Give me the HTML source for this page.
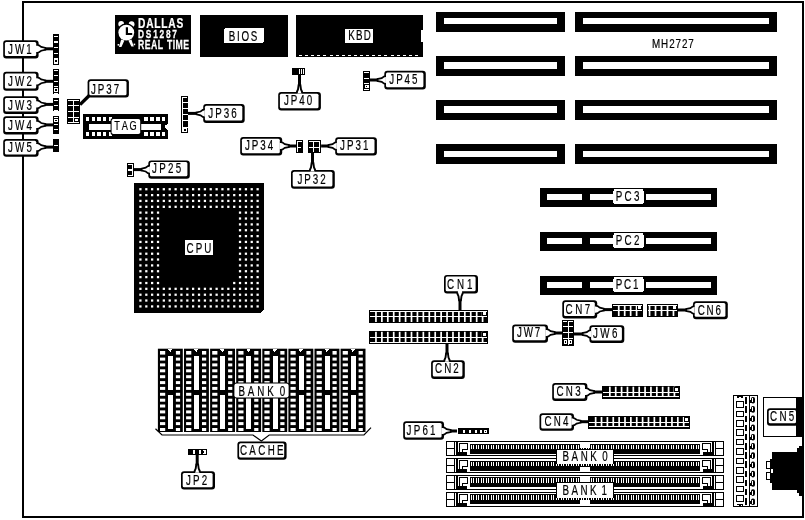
<!DOCTYPE html>
<html><head><meta charset="utf-8"><title>MH2727 board layout</title>
<style>
html,body{margin:0;padding:0;background:#fff;}
body{width:805px;height:520px;overflow:hidden;font-family:"Liberation Sans",sans-serif;}
svg{display:block;filter:grayscale(1);}
svg text{font-family:"Liberation Sans",sans-serif;}
</style></head><body>
<svg width="805" height="520" viewBox="0 0 805 520">
<rect width="805" height="520" fill="#fff"/>
<g shape-rendering="crispEdges">
<rect x="22" y="1" width="782" height="2" fill="#000" />
<rect x="22" y="516" width="782" height="2" fill="#000" />
<rect x="22" y="1" width="2" height="517" fill="#000" />
<rect x="802" y="1" width="2" height="517" fill="#000" />
<rect x="115" y="15" width="76" height="39" fill="#000" />
</g>
<g fill="#fff" stroke="none"><circle cx="121.2" cy="24" r="2.9"/><circle cx="131.6" cy="24.2" r="2.9"/><circle cx="126.3" cy="32.6" r="9.3" fill="#000"/><circle cx="126.3" cy="32.6" r="7.9"/><path d="M121.2,39.5 L119,47 L121.4,47 L124.4,40.5 Z"/><path d="M131.4,39.5 L133.8,46.6 L131.4,46.6 L128.4,40.5 Z"/><rect x="117.6" y="44" width="1.6" height="1.6"/><rect x="133.6" y="43.6" width="1.6" height="1.6"/></g>
<path d="M126.9,27.2 V34 H132.2" fill="none" stroke="#000" stroke-width="2.2"/>
<text transform="translate(0,28) scale(0.7,1)" x="197.14 208.80 220.45 230.45 240.45 252.11" y="0" font-size="14.6" fill="#fff" stroke="#fff" stroke-width="0.25" font-weight="bold">DALLAS</text>
<text transform="translate(0,38.2) scale(0.72,1)" x="191.67 202.51 212.70 221.60 230.49 239.38" y="0" font-size="11.6" fill="#fff" stroke="#fff" stroke-width="0.3" font-weight="bold">DS1287</text>
<text transform="translate(0,48.7) scale(0.66,1)" x="209.09 219.30 228.75 238.96 247.01 252.90 261.60 265.91 277.56" y="0" font-size="13.2" fill="#fff" stroke="#fff" stroke-width="0.25" font-weight="bold">REAL TIME</text>
<g shape-rendering="crispEdges">
<rect x="200" y="15" width="88" height="42" fill="#000" />
<rect x="224" y="28" width="40" height="15" rx="2" fill="#fff" />
<rect x="296" y="15" width="127" height="42" fill="#000" />
<rect x="421" y="30" width="3" height="12" fill="#fff" />
<rect x="299" y="55" width="3" height="1" fill="#fff" />
<rect x="305.1" y="55" width="3" height="1" fill="#fff" />
<rect x="311.2" y="55" width="3" height="1" fill="#fff" />
<rect x="317.3" y="55" width="3" height="1" fill="#fff" />
<rect x="323.4" y="55" width="3" height="1" fill="#fff" />
<rect x="329.5" y="55" width="3" height="1" fill="#fff" />
<rect x="335.6" y="55" width="3" height="1" fill="#fff" />
<rect x="341.7" y="55" width="3" height="1" fill="#fff" />
<rect x="347.8" y="55" width="3" height="1" fill="#fff" />
<rect x="353.9" y="55" width="3" height="1" fill="#fff" />
<rect x="360" y="55" width="3" height="1" fill="#fff" />
<rect x="366.1" y="55" width="3" height="1" fill="#fff" />
<rect x="372.2" y="55" width="3" height="1" fill="#fff" />
<rect x="378.3" y="55" width="3" height="1" fill="#fff" />
<rect x="384.4" y="55" width="3" height="1" fill="#fff" />
<rect x="390.5" y="55" width="3" height="1" fill="#fff" />
<rect x="396.6" y="55" width="3" height="1" fill="#fff" />
<rect x="402.7" y="55" width="3" height="1" fill="#fff" />
<rect x="408.8" y="55" width="3" height="1" fill="#fff" />
<rect x="414.9" y="55" width="3" height="1" fill="#fff" />
<rect x="345" y="29" width="28" height="14" fill="#fff" />
</g>
<text transform="translate(0,40.8) scale(0.7,1)" x="326.86 338.66 345.01 358.36" y="0" font-size="14" fill="#000" stroke="#000" stroke-width="0.2">BIOS</text>
<text transform="translate(0,40) scale(0.7,1)" x="497.57 508.66 519.76" y="0" font-size="14" fill="#000" stroke="#000" stroke-width="0.2">KBD</text>
<g shape-rendering="crispEdges">
<rect x="436" y="12" width="129.4" height="19.6" fill="#000" />
<rect x="444" y="18.2" width="113.4" height="6.2" fill="#fff" />
<rect x="575" y="12" width="202" height="19.6" fill="#000" />
<rect x="583" y="18.2" width="186" height="6.2" fill="#fff" />
<rect x="436" y="56" width="129.4" height="19.6" fill="#000" />
<rect x="444" y="62.4" width="113.4" height="6.4" fill="#fff" />
<rect x="575" y="56" width="202" height="19.6" fill="#000" />
<rect x="583" y="62.4" width="186" height="6.4" fill="#fff" />
<rect x="436" y="100" width="129.4" height="19.6" fill="#000" />
<rect x="444" y="106.2" width="113.4" height="6.8" fill="#fff" />
<rect x="575" y="100" width="202" height="19.6" fill="#000" />
<rect x="583" y="106.2" width="186" height="6.8" fill="#fff" />
<rect x="436" y="144" width="129.4" height="19.6" fill="#000" />
<rect x="444" y="150.6" width="113.4" height="6.4" fill="#fff" />
<rect x="575" y="144" width="202" height="19.6" fill="#000" />
<rect x="583" y="150.6" width="186" height="6.4" fill="#fff" />
</g>
<text transform="translate(0,48) scale(0.8,1)" x="815.00 826.39 836.43 844.42 852.41 860.40" y="0" font-size="12.3" fill="#000" stroke="#000" stroke-width="0.2">MH2727</text>
<g shape-rendering="crispEdges">
<rect x="540" y="188" width="177" height="19" fill="#000" />
<rect x="547" y="194" width="34.5" height="6" fill="#fff" />
<rect x="590" y="194" width="26" height="6" fill="#fff" />
<rect x="646" y="194" width="64.5" height="6" fill="#fff" />
<rect x="613.4" y="189" width="30.2" height="15.4" rx="2.5" fill="#fff" />
<rect x="540" y="232" width="177" height="19" fill="#000" />
<rect x="547" y="238" width="34.5" height="6" fill="#fff" />
<rect x="590" y="238" width="26" height="6" fill="#fff" />
<rect x="646" y="238" width="64.5" height="6" fill="#fff" />
<rect x="613.4" y="233" width="30.2" height="15.4" rx="2.5" fill="#fff" />
<rect x="540" y="276" width="177" height="19" fill="#000" />
<rect x="547" y="282" width="34.5" height="6" fill="#fff" />
<rect x="590" y="282" width="26" height="6" fill="#fff" />
<rect x="646" y="282" width="64.5" height="6" fill="#fff" />
<rect x="613.4" y="277" width="30.2" height="15.4" rx="2.5" fill="#fff" />
</g>
<text transform="translate(0,200.6) scale(0.7,1)" x="879.71 892.30 905.63" y="0" font-size="14" fill="#000" stroke="#000" stroke-width="0.2">PC3</text>
<text transform="translate(0,245.1) scale(0.7,1)" x="879.71 892.30 905.63" y="0" font-size="14" fill="#000" stroke="#000" stroke-width="0.2">PC2</text>
<text transform="translate(0,289.4) scale(0.7,1)" x="879.71 891.58 904.20" y="0" font-size="14" fill="#000" stroke="#000" stroke-width="0.2">PC1</text>
<g shape-rendering="crispEdges">
<polygon points="134,183 263.6,183 263.6,309.5 260.5,312.6 134,312.6" fill="#000" stroke="none" stroke-width="1" />
<rect x="139.3" y="188.1" width="2.25" height="2.25" fill="#fff" shape-rendering="auto"/>
<rect x="139.3" y="194" width="2.25" height="2.25" fill="#fff" shape-rendering="auto"/>
<rect x="139.3" y="199.8" width="2.25" height="2.25" fill="#fff" shape-rendering="auto"/>
<rect x="139.3" y="205.7" width="2.25" height="2.25" fill="#fff" shape-rendering="auto"/>
<rect x="139.3" y="211.5" width="2.25" height="2.25" fill="#fff" shape-rendering="auto"/>
<rect x="139.3" y="217.4" width="2.25" height="2.25" fill="#fff" shape-rendering="auto"/>
<rect x="139.3" y="223.3" width="2.25" height="2.25" fill="#fff" shape-rendering="auto"/>
<rect x="139.3" y="229.1" width="2.25" height="2.25" fill="#fff" shape-rendering="auto"/>
<rect x="139.3" y="235" width="2.25" height="2.25" fill="#fff" shape-rendering="auto"/>
<rect x="139.3" y="240.8" width="2.25" height="2.25" fill="#fff" shape-rendering="auto"/>
<rect x="139.3" y="246.7" width="2.25" height="2.25" fill="#fff" shape-rendering="auto"/>
<rect x="139.3" y="252.6" width="2.25" height="2.25" fill="#fff" shape-rendering="auto"/>
<rect x="139.3" y="258.4" width="2.25" height="2.25" fill="#fff" shape-rendering="auto"/>
<rect x="139.3" y="264.3" width="2.25" height="2.25" fill="#fff" shape-rendering="auto"/>
<rect x="139.3" y="270.1" width="2.25" height="2.25" fill="#fff" shape-rendering="auto"/>
<rect x="139.3" y="276" width="2.25" height="2.25" fill="#fff" shape-rendering="auto"/>
<rect x="139.3" y="281.9" width="2.25" height="2.25" fill="#fff" shape-rendering="auto"/>
<rect x="139.3" y="287.7" width="2.25" height="2.25" fill="#fff" shape-rendering="auto"/>
<rect x="139.3" y="293.6" width="2.25" height="2.25" fill="#fff" shape-rendering="auto"/>
<rect x="139.3" y="299.4" width="2.25" height="2.25" fill="#fff" shape-rendering="auto"/>
<rect x="139.3" y="305.3" width="2.25" height="2.25" fill="#fff" shape-rendering="auto"/>
<rect x="145.2" y="188.1" width="2.25" height="2.25" fill="#fff" shape-rendering="auto"/>
<rect x="145.2" y="194" width="2.25" height="2.25" fill="#fff" shape-rendering="auto"/>
<rect x="145.2" y="199.8" width="2.25" height="2.25" fill="#fff" shape-rendering="auto"/>
<rect x="145.2" y="205.7" width="2.25" height="2.25" fill="#fff" shape-rendering="auto"/>
<rect x="145.2" y="211.5" width="2.25" height="2.25" fill="#fff" shape-rendering="auto"/>
<rect x="145.2" y="217.4" width="2.25" height="2.25" fill="#fff" shape-rendering="auto"/>
<rect x="145.2" y="223.3" width="2.25" height="2.25" fill="#fff" shape-rendering="auto"/>
<rect x="145.2" y="229.1" width="2.25" height="2.25" fill="#fff" shape-rendering="auto"/>
<rect x="145.2" y="235" width="2.25" height="2.25" fill="#fff" shape-rendering="auto"/>
<rect x="145.2" y="240.8" width="2.25" height="2.25" fill="#fff" shape-rendering="auto"/>
<rect x="145.2" y="246.7" width="2.25" height="2.25" fill="#fff" shape-rendering="auto"/>
<rect x="145.2" y="252.6" width="2.25" height="2.25" fill="#fff" shape-rendering="auto"/>
<rect x="145.2" y="258.4" width="2.25" height="2.25" fill="#fff" shape-rendering="auto"/>
<rect x="145.2" y="264.3" width="2.25" height="2.25" fill="#fff" shape-rendering="auto"/>
<rect x="145.2" y="270.1" width="2.25" height="2.25" fill="#fff" shape-rendering="auto"/>
<rect x="145.2" y="276" width="2.25" height="2.25" fill="#fff" shape-rendering="auto"/>
<rect x="145.2" y="281.9" width="2.25" height="2.25" fill="#fff" shape-rendering="auto"/>
<rect x="145.2" y="287.7" width="2.25" height="2.25" fill="#fff" shape-rendering="auto"/>
<rect x="145.2" y="293.6" width="2.25" height="2.25" fill="#fff" shape-rendering="auto"/>
<rect x="145.2" y="299.4" width="2.25" height="2.25" fill="#fff" shape-rendering="auto"/>
<rect x="145.2" y="305.3" width="2.25" height="2.25" fill="#fff" shape-rendering="auto"/>
<rect x="151" y="188.1" width="2.25" height="2.25" fill="#fff" shape-rendering="auto"/>
<rect x="151" y="194" width="2.25" height="2.25" fill="#fff" shape-rendering="auto"/>
<rect x="151" y="199.8" width="2.25" height="2.25" fill="#fff" shape-rendering="auto"/>
<rect x="151" y="205.7" width="2.25" height="2.25" fill="#fff" shape-rendering="auto"/>
<rect x="151" y="211.5" width="2.25" height="2.25" fill="#fff" shape-rendering="auto"/>
<rect x="151" y="217.4" width="2.25" height="2.25" fill="#fff" shape-rendering="auto"/>
<rect x="151" y="223.3" width="2.25" height="2.25" fill="#fff" shape-rendering="auto"/>
<rect x="151" y="229.1" width="2.25" height="2.25" fill="#fff" shape-rendering="auto"/>
<rect x="151" y="235" width="2.25" height="2.25" fill="#fff" shape-rendering="auto"/>
<rect x="151" y="240.8" width="2.25" height="2.25" fill="#fff" shape-rendering="auto"/>
<rect x="151" y="246.7" width="2.25" height="2.25" fill="#fff" shape-rendering="auto"/>
<rect x="151" y="252.6" width="2.25" height="2.25" fill="#fff" shape-rendering="auto"/>
<rect x="151" y="258.4" width="2.25" height="2.25" fill="#fff" shape-rendering="auto"/>
<rect x="151" y="264.3" width="2.25" height="2.25" fill="#fff" shape-rendering="auto"/>
<rect x="151" y="270.1" width="2.25" height="2.25" fill="#fff" shape-rendering="auto"/>
<rect x="151" y="276" width="2.25" height="2.25" fill="#fff" shape-rendering="auto"/>
<rect x="151" y="281.9" width="2.25" height="2.25" fill="#fff" shape-rendering="auto"/>
<rect x="151" y="287.7" width="2.25" height="2.25" fill="#fff" shape-rendering="auto"/>
<rect x="151" y="293.6" width="2.25" height="2.25" fill="#fff" shape-rendering="auto"/>
<rect x="151" y="299.4" width="2.25" height="2.25" fill="#fff" shape-rendering="auto"/>
<rect x="151" y="305.3" width="2.25" height="2.25" fill="#fff" shape-rendering="auto"/>
<rect x="156.9" y="188.1" width="2.25" height="2.25" fill="#fff" shape-rendering="auto"/>
<rect x="156.9" y="194" width="2.25" height="2.25" fill="#fff" shape-rendering="auto"/>
<rect x="156.9" y="199.8" width="2.25" height="2.25" fill="#fff" shape-rendering="auto"/>
<rect x="156.9" y="205.7" width="2.25" height="2.25" fill="#fff" shape-rendering="auto"/>
<rect x="156.9" y="211.5" width="2.25" height="2.25" fill="#fff" shape-rendering="auto"/>
<rect x="156.9" y="217.4" width="2.25" height="2.25" fill="#fff" shape-rendering="auto"/>
<rect x="156.9" y="223.3" width="2.25" height="2.25" fill="#fff" shape-rendering="auto"/>
<rect x="156.9" y="229.1" width="2.25" height="2.25" fill="#fff" shape-rendering="auto"/>
<rect x="156.9" y="235" width="2.25" height="2.25" fill="#fff" shape-rendering="auto"/>
<rect x="156.9" y="240.8" width="2.25" height="2.25" fill="#fff" shape-rendering="auto"/>
<rect x="156.9" y="246.7" width="2.25" height="2.25" fill="#fff" shape-rendering="auto"/>
<rect x="156.9" y="252.6" width="2.25" height="2.25" fill="#fff" shape-rendering="auto"/>
<rect x="156.9" y="258.4" width="2.25" height="2.25" fill="#fff" shape-rendering="auto"/>
<rect x="156.9" y="264.3" width="2.25" height="2.25" fill="#fff" shape-rendering="auto"/>
<rect x="156.9" y="270.1" width="2.25" height="2.25" fill="#fff" shape-rendering="auto"/>
<rect x="156.9" y="276" width="2.25" height="2.25" fill="#fff" shape-rendering="auto"/>
<rect x="156.9" y="281.9" width="2.25" height="2.25" fill="#fff" shape-rendering="auto"/>
<rect x="156.9" y="287.7" width="2.25" height="2.25" fill="#fff" shape-rendering="auto"/>
<rect x="156.9" y="293.6" width="2.25" height="2.25" fill="#fff" shape-rendering="auto"/>
<rect x="156.9" y="299.4" width="2.25" height="2.25" fill="#fff" shape-rendering="auto"/>
<rect x="156.9" y="305.3" width="2.25" height="2.25" fill="#fff" shape-rendering="auto"/>
<rect x="162.7" y="188.1" width="2.25" height="2.25" fill="#fff" shape-rendering="auto"/>
<rect x="162.7" y="194" width="2.25" height="2.25" fill="#fff" shape-rendering="auto"/>
<rect x="162.7" y="199.8" width="2.25" height="2.25" fill="#fff" shape-rendering="auto"/>
<rect x="162.7" y="205.7" width="2.25" height="2.25" fill="#fff" shape-rendering="auto"/>
<rect x="162.7" y="287.7" width="2.25" height="2.25" fill="#fff" shape-rendering="auto"/>
<rect x="162.7" y="293.6" width="2.25" height="2.25" fill="#fff" shape-rendering="auto"/>
<rect x="162.7" y="299.4" width="2.25" height="2.25" fill="#fff" shape-rendering="auto"/>
<rect x="162.7" y="305.3" width="2.25" height="2.25" fill="#fff" shape-rendering="auto"/>
<rect x="168.6" y="188.1" width="2.25" height="2.25" fill="#fff" shape-rendering="auto"/>
<rect x="168.6" y="194" width="2.25" height="2.25" fill="#fff" shape-rendering="auto"/>
<rect x="168.6" y="199.8" width="2.25" height="2.25" fill="#fff" shape-rendering="auto"/>
<rect x="168.6" y="205.7" width="2.25" height="2.25" fill="#fff" shape-rendering="auto"/>
<rect x="168.6" y="287.7" width="2.25" height="2.25" fill="#fff" shape-rendering="auto"/>
<rect x="168.6" y="293.6" width="2.25" height="2.25" fill="#fff" shape-rendering="auto"/>
<rect x="168.6" y="299.4" width="2.25" height="2.25" fill="#fff" shape-rendering="auto"/>
<rect x="168.6" y="305.3" width="2.25" height="2.25" fill="#fff" shape-rendering="auto"/>
<rect x="174.5" y="188.1" width="2.25" height="2.25" fill="#fff" shape-rendering="auto"/>
<rect x="174.5" y="194" width="2.25" height="2.25" fill="#fff" shape-rendering="auto"/>
<rect x="174.5" y="199.8" width="2.25" height="2.25" fill="#fff" shape-rendering="auto"/>
<rect x="174.5" y="205.7" width="2.25" height="2.25" fill="#fff" shape-rendering="auto"/>
<rect x="174.5" y="287.7" width="2.25" height="2.25" fill="#fff" shape-rendering="auto"/>
<rect x="174.5" y="293.6" width="2.25" height="2.25" fill="#fff" shape-rendering="auto"/>
<rect x="174.5" y="299.4" width="2.25" height="2.25" fill="#fff" shape-rendering="auto"/>
<rect x="174.5" y="305.3" width="2.25" height="2.25" fill="#fff" shape-rendering="auto"/>
<rect x="180.3" y="188.1" width="2.25" height="2.25" fill="#fff" shape-rendering="auto"/>
<rect x="180.3" y="194" width="2.25" height="2.25" fill="#fff" shape-rendering="auto"/>
<rect x="180.3" y="199.8" width="2.25" height="2.25" fill="#fff" shape-rendering="auto"/>
<rect x="180.3" y="205.7" width="2.25" height="2.25" fill="#fff" shape-rendering="auto"/>
<rect x="180.3" y="287.7" width="2.25" height="2.25" fill="#fff" shape-rendering="auto"/>
<rect x="180.3" y="293.6" width="2.25" height="2.25" fill="#fff" shape-rendering="auto"/>
<rect x="180.3" y="299.4" width="2.25" height="2.25" fill="#fff" shape-rendering="auto"/>
<rect x="180.3" y="305.3" width="2.25" height="2.25" fill="#fff" shape-rendering="auto"/>
<rect x="186.2" y="188.1" width="2.25" height="2.25" fill="#fff" shape-rendering="auto"/>
<rect x="186.2" y="194" width="2.25" height="2.25" fill="#fff" shape-rendering="auto"/>
<rect x="186.2" y="199.8" width="2.25" height="2.25" fill="#fff" shape-rendering="auto"/>
<rect x="186.2" y="205.7" width="2.25" height="2.25" fill="#fff" shape-rendering="auto"/>
<rect x="186.2" y="287.7" width="2.25" height="2.25" fill="#fff" shape-rendering="auto"/>
<rect x="186.2" y="293.6" width="2.25" height="2.25" fill="#fff" shape-rendering="auto"/>
<rect x="186.2" y="299.4" width="2.25" height="2.25" fill="#fff" shape-rendering="auto"/>
<rect x="186.2" y="305.3" width="2.25" height="2.25" fill="#fff" shape-rendering="auto"/>
<rect x="192" y="188.1" width="2.25" height="2.25" fill="#fff" shape-rendering="auto"/>
<rect x="192" y="194" width="2.25" height="2.25" fill="#fff" shape-rendering="auto"/>
<rect x="192" y="199.8" width="2.25" height="2.25" fill="#fff" shape-rendering="auto"/>
<rect x="192" y="205.7" width="2.25" height="2.25" fill="#fff" shape-rendering="auto"/>
<rect x="192" y="287.7" width="2.25" height="2.25" fill="#fff" shape-rendering="auto"/>
<rect x="192" y="293.6" width="2.25" height="2.25" fill="#fff" shape-rendering="auto"/>
<rect x="192" y="299.4" width="2.25" height="2.25" fill="#fff" shape-rendering="auto"/>
<rect x="192" y="305.3" width="2.25" height="2.25" fill="#fff" shape-rendering="auto"/>
<rect x="197.9" y="188.1" width="2.25" height="2.25" fill="#fff" shape-rendering="auto"/>
<rect x="197.9" y="194" width="2.25" height="2.25" fill="#fff" shape-rendering="auto"/>
<rect x="197.9" y="199.8" width="2.25" height="2.25" fill="#fff" shape-rendering="auto"/>
<rect x="197.9" y="205.7" width="2.25" height="2.25" fill="#fff" shape-rendering="auto"/>
<rect x="197.9" y="287.7" width="2.25" height="2.25" fill="#fff" shape-rendering="auto"/>
<rect x="197.9" y="293.6" width="2.25" height="2.25" fill="#fff" shape-rendering="auto"/>
<rect x="197.9" y="299.4" width="2.25" height="2.25" fill="#fff" shape-rendering="auto"/>
<rect x="197.9" y="305.3" width="2.25" height="2.25" fill="#fff" shape-rendering="auto"/>
<rect x="203.8" y="188.1" width="2.25" height="2.25" fill="#fff" shape-rendering="auto"/>
<rect x="203.8" y="194" width="2.25" height="2.25" fill="#fff" shape-rendering="auto"/>
<rect x="203.8" y="199.8" width="2.25" height="2.25" fill="#fff" shape-rendering="auto"/>
<rect x="203.8" y="205.7" width="2.25" height="2.25" fill="#fff" shape-rendering="auto"/>
<rect x="203.8" y="287.7" width="2.25" height="2.25" fill="#fff" shape-rendering="auto"/>
<rect x="203.8" y="293.6" width="2.25" height="2.25" fill="#fff" shape-rendering="auto"/>
<rect x="203.8" y="299.4" width="2.25" height="2.25" fill="#fff" shape-rendering="auto"/>
<rect x="203.8" y="305.3" width="2.25" height="2.25" fill="#fff" shape-rendering="auto"/>
<rect x="209.6" y="188.1" width="2.25" height="2.25" fill="#fff" shape-rendering="auto"/>
<rect x="209.6" y="194" width="2.25" height="2.25" fill="#fff" shape-rendering="auto"/>
<rect x="209.6" y="199.8" width="2.25" height="2.25" fill="#fff" shape-rendering="auto"/>
<rect x="209.6" y="205.7" width="2.25" height="2.25" fill="#fff" shape-rendering="auto"/>
<rect x="209.6" y="287.7" width="2.25" height="2.25" fill="#fff" shape-rendering="auto"/>
<rect x="209.6" y="293.6" width="2.25" height="2.25" fill="#fff" shape-rendering="auto"/>
<rect x="209.6" y="299.4" width="2.25" height="2.25" fill="#fff" shape-rendering="auto"/>
<rect x="209.6" y="305.3" width="2.25" height="2.25" fill="#fff" shape-rendering="auto"/>
<rect x="215.5" y="188.1" width="2.25" height="2.25" fill="#fff" shape-rendering="auto"/>
<rect x="215.5" y="194" width="2.25" height="2.25" fill="#fff" shape-rendering="auto"/>
<rect x="215.5" y="199.8" width="2.25" height="2.25" fill="#fff" shape-rendering="auto"/>
<rect x="215.5" y="205.7" width="2.25" height="2.25" fill="#fff" shape-rendering="auto"/>
<rect x="215.5" y="287.7" width="2.25" height="2.25" fill="#fff" shape-rendering="auto"/>
<rect x="215.5" y="293.6" width="2.25" height="2.25" fill="#fff" shape-rendering="auto"/>
<rect x="215.5" y="299.4" width="2.25" height="2.25" fill="#fff" shape-rendering="auto"/>
<rect x="215.5" y="305.3" width="2.25" height="2.25" fill="#fff" shape-rendering="auto"/>
<rect x="221.3" y="188.1" width="2.25" height="2.25" fill="#fff" shape-rendering="auto"/>
<rect x="221.3" y="194" width="2.25" height="2.25" fill="#fff" shape-rendering="auto"/>
<rect x="221.3" y="199.8" width="2.25" height="2.25" fill="#fff" shape-rendering="auto"/>
<rect x="221.3" y="205.7" width="2.25" height="2.25" fill="#fff" shape-rendering="auto"/>
<rect x="221.3" y="287.7" width="2.25" height="2.25" fill="#fff" shape-rendering="auto"/>
<rect x="221.3" y="293.6" width="2.25" height="2.25" fill="#fff" shape-rendering="auto"/>
<rect x="221.3" y="299.4" width="2.25" height="2.25" fill="#fff" shape-rendering="auto"/>
<rect x="221.3" y="305.3" width="2.25" height="2.25" fill="#fff" shape-rendering="auto"/>
<rect x="227.2" y="188.1" width="2.25" height="2.25" fill="#fff" shape-rendering="auto"/>
<rect x="227.2" y="194" width="2.25" height="2.25" fill="#fff" shape-rendering="auto"/>
<rect x="227.2" y="199.8" width="2.25" height="2.25" fill="#fff" shape-rendering="auto"/>
<rect x="227.2" y="205.7" width="2.25" height="2.25" fill="#fff" shape-rendering="auto"/>
<rect x="227.2" y="287.7" width="2.25" height="2.25" fill="#fff" shape-rendering="auto"/>
<rect x="227.2" y="293.6" width="2.25" height="2.25" fill="#fff" shape-rendering="auto"/>
<rect x="227.2" y="299.4" width="2.25" height="2.25" fill="#fff" shape-rendering="auto"/>
<rect x="227.2" y="305.3" width="2.25" height="2.25" fill="#fff" shape-rendering="auto"/>
<rect x="233.1" y="188.1" width="2.25" height="2.25" fill="#fff" shape-rendering="auto"/>
<rect x="233.1" y="194" width="2.25" height="2.25" fill="#fff" shape-rendering="auto"/>
<rect x="233.1" y="199.8" width="2.25" height="2.25" fill="#fff" shape-rendering="auto"/>
<rect x="233.1" y="205.7" width="2.25" height="2.25" fill="#fff" shape-rendering="auto"/>
<rect x="233.1" y="281.9" width="2.25" height="2.25" fill="#fff" shape-rendering="auto"/>
<rect x="233.1" y="287.7" width="2.25" height="2.25" fill="#fff" shape-rendering="auto"/>
<rect x="233.1" y="293.6" width="2.25" height="2.25" fill="#fff" shape-rendering="auto"/>
<rect x="233.1" y="299.4" width="2.25" height="2.25" fill="#fff" shape-rendering="auto"/>
<rect x="233.1" y="305.3" width="2.25" height="2.25" fill="#fff" shape-rendering="auto"/>
<rect x="238.9" y="188.1" width="2.25" height="2.25" fill="#fff" shape-rendering="auto"/>
<rect x="238.9" y="194" width="2.25" height="2.25" fill="#fff" shape-rendering="auto"/>
<rect x="238.9" y="199.8" width="2.25" height="2.25" fill="#fff" shape-rendering="auto"/>
<rect x="238.9" y="205.7" width="2.25" height="2.25" fill="#fff" shape-rendering="auto"/>
<rect x="238.9" y="211.5" width="2.25" height="2.25" fill="#fff" shape-rendering="auto"/>
<rect x="238.9" y="217.4" width="2.25" height="2.25" fill="#fff" shape-rendering="auto"/>
<rect x="238.9" y="223.3" width="2.25" height="2.25" fill="#fff" shape-rendering="auto"/>
<rect x="238.9" y="229.1" width="2.25" height="2.25" fill="#fff" shape-rendering="auto"/>
<rect x="238.9" y="235" width="2.25" height="2.25" fill="#fff" shape-rendering="auto"/>
<rect x="238.9" y="240.8" width="2.25" height="2.25" fill="#fff" shape-rendering="auto"/>
<rect x="238.9" y="246.7" width="2.25" height="2.25" fill="#fff" shape-rendering="auto"/>
<rect x="238.9" y="252.6" width="2.25" height="2.25" fill="#fff" shape-rendering="auto"/>
<rect x="238.9" y="258.4" width="2.25" height="2.25" fill="#fff" shape-rendering="auto"/>
<rect x="238.9" y="264.3" width="2.25" height="2.25" fill="#fff" shape-rendering="auto"/>
<rect x="238.9" y="270.1" width="2.25" height="2.25" fill="#fff" shape-rendering="auto"/>
<rect x="238.9" y="276" width="2.25" height="2.25" fill="#fff" shape-rendering="auto"/>
<rect x="238.9" y="281.9" width="2.25" height="2.25" fill="#fff" shape-rendering="auto"/>
<rect x="238.9" y="287.7" width="2.25" height="2.25" fill="#fff" shape-rendering="auto"/>
<rect x="238.9" y="293.6" width="2.25" height="2.25" fill="#fff" shape-rendering="auto"/>
<rect x="238.9" y="299.4" width="2.25" height="2.25" fill="#fff" shape-rendering="auto"/>
<rect x="238.9" y="305.3" width="2.25" height="2.25" fill="#fff" shape-rendering="auto"/>
<rect x="244.8" y="188.1" width="2.25" height="2.25" fill="#fff" shape-rendering="auto"/>
<rect x="244.8" y="194" width="2.25" height="2.25" fill="#fff" shape-rendering="auto"/>
<rect x="244.8" y="199.8" width="2.25" height="2.25" fill="#fff" shape-rendering="auto"/>
<rect x="244.8" y="205.7" width="2.25" height="2.25" fill="#fff" shape-rendering="auto"/>
<rect x="244.8" y="211.5" width="2.25" height="2.25" fill="#fff" shape-rendering="auto"/>
<rect x="244.8" y="217.4" width="2.25" height="2.25" fill="#fff" shape-rendering="auto"/>
<rect x="244.8" y="223.3" width="2.25" height="2.25" fill="#fff" shape-rendering="auto"/>
<rect x="244.8" y="229.1" width="2.25" height="2.25" fill="#fff" shape-rendering="auto"/>
<rect x="244.8" y="235" width="2.25" height="2.25" fill="#fff" shape-rendering="auto"/>
<rect x="244.8" y="240.8" width="2.25" height="2.25" fill="#fff" shape-rendering="auto"/>
<rect x="244.8" y="246.7" width="2.25" height="2.25" fill="#fff" shape-rendering="auto"/>
<rect x="244.8" y="252.6" width="2.25" height="2.25" fill="#fff" shape-rendering="auto"/>
<rect x="244.8" y="258.4" width="2.25" height="2.25" fill="#fff" shape-rendering="auto"/>
<rect x="244.8" y="264.3" width="2.25" height="2.25" fill="#fff" shape-rendering="auto"/>
<rect x="244.8" y="270.1" width="2.25" height="2.25" fill="#fff" shape-rendering="auto"/>
<rect x="244.8" y="276" width="2.25" height="2.25" fill="#fff" shape-rendering="auto"/>
<rect x="244.8" y="281.9" width="2.25" height="2.25" fill="#fff" shape-rendering="auto"/>
<rect x="244.8" y="287.7" width="2.25" height="2.25" fill="#fff" shape-rendering="auto"/>
<rect x="244.8" y="293.6" width="2.25" height="2.25" fill="#fff" shape-rendering="auto"/>
<rect x="244.8" y="299.4" width="2.25" height="2.25" fill="#fff" shape-rendering="auto"/>
<rect x="244.8" y="305.3" width="2.25" height="2.25" fill="#fff" shape-rendering="auto"/>
<rect x="250.6" y="188.1" width="2.25" height="2.25" fill="#fff" shape-rendering="auto"/>
<rect x="250.6" y="194" width="2.25" height="2.25" fill="#fff" shape-rendering="auto"/>
<rect x="250.6" y="199.8" width="2.25" height="2.25" fill="#fff" shape-rendering="auto"/>
<rect x="250.6" y="205.7" width="2.25" height="2.25" fill="#fff" shape-rendering="auto"/>
<rect x="250.6" y="211.5" width="2.25" height="2.25" fill="#fff" shape-rendering="auto"/>
<rect x="250.6" y="217.4" width="2.25" height="2.25" fill="#fff" shape-rendering="auto"/>
<rect x="250.6" y="223.3" width="2.25" height="2.25" fill="#fff" shape-rendering="auto"/>
<rect x="250.6" y="229.1" width="2.25" height="2.25" fill="#fff" shape-rendering="auto"/>
<rect x="250.6" y="235" width="2.25" height="2.25" fill="#fff" shape-rendering="auto"/>
<rect x="250.6" y="240.8" width="2.25" height="2.25" fill="#fff" shape-rendering="auto"/>
<rect x="250.6" y="246.7" width="2.25" height="2.25" fill="#fff" shape-rendering="auto"/>
<rect x="250.6" y="252.6" width="2.25" height="2.25" fill="#fff" shape-rendering="auto"/>
<rect x="250.6" y="258.4" width="2.25" height="2.25" fill="#fff" shape-rendering="auto"/>
<rect x="250.6" y="264.3" width="2.25" height="2.25" fill="#fff" shape-rendering="auto"/>
<rect x="250.6" y="270.1" width="2.25" height="2.25" fill="#fff" shape-rendering="auto"/>
<rect x="250.6" y="276" width="2.25" height="2.25" fill="#fff" shape-rendering="auto"/>
<rect x="250.6" y="281.9" width="2.25" height="2.25" fill="#fff" shape-rendering="auto"/>
<rect x="250.6" y="287.7" width="2.25" height="2.25" fill="#fff" shape-rendering="auto"/>
<rect x="250.6" y="293.6" width="2.25" height="2.25" fill="#fff" shape-rendering="auto"/>
<rect x="250.6" y="299.4" width="2.25" height="2.25" fill="#fff" shape-rendering="auto"/>
<rect x="250.6" y="305.3" width="2.25" height="2.25" fill="#fff" shape-rendering="auto"/>
<rect x="256.5" y="188.1" width="2.25" height="2.25" fill="#fff" shape-rendering="auto"/>
<rect x="256.5" y="194" width="2.25" height="2.25" fill="#fff" shape-rendering="auto"/>
<rect x="256.5" y="199.8" width="2.25" height="2.25" fill="#fff" shape-rendering="auto"/>
<rect x="256.5" y="205.7" width="2.25" height="2.25" fill="#fff" shape-rendering="auto"/>
<rect x="256.5" y="211.5" width="2.25" height="2.25" fill="#fff" shape-rendering="auto"/>
<rect x="256.5" y="217.4" width="2.25" height="2.25" fill="#fff" shape-rendering="auto"/>
<rect x="256.5" y="223.3" width="2.25" height="2.25" fill="#fff" shape-rendering="auto"/>
<rect x="256.5" y="229.1" width="2.25" height="2.25" fill="#fff" shape-rendering="auto"/>
<rect x="256.5" y="235" width="2.25" height="2.25" fill="#fff" shape-rendering="auto"/>
<rect x="256.5" y="240.8" width="2.25" height="2.25" fill="#fff" shape-rendering="auto"/>
<rect x="256.5" y="246.7" width="2.25" height="2.25" fill="#fff" shape-rendering="auto"/>
<rect x="256.5" y="252.6" width="2.25" height="2.25" fill="#fff" shape-rendering="auto"/>
<rect x="256.5" y="258.4" width="2.25" height="2.25" fill="#fff" shape-rendering="auto"/>
<rect x="256.5" y="264.3" width="2.25" height="2.25" fill="#fff" shape-rendering="auto"/>
<rect x="256.5" y="270.1" width="2.25" height="2.25" fill="#fff" shape-rendering="auto"/>
<rect x="256.5" y="276" width="2.25" height="2.25" fill="#fff" shape-rendering="auto"/>
<rect x="256.5" y="281.9" width="2.25" height="2.25" fill="#fff" shape-rendering="auto"/>
<rect x="256.5" y="287.7" width="2.25" height="2.25" fill="#fff" shape-rendering="auto"/>
<rect x="256.5" y="293.6" width="2.25" height="2.25" fill="#fff" shape-rendering="auto"/>
<rect x="256.5" y="299.4" width="2.25" height="2.25" fill="#fff" shape-rendering="auto"/>
<rect x="256.5" y="305.3" width="2.25" height="2.25" fill="#fff" shape-rendering="auto"/>
<rect x="185" y="240" width="27.5" height="14.8" fill="#fff" />
</g>
<text transform="translate(0,253.4) scale(0.7,1)" x="266.57 279.61 291.90" y="0" font-size="14" fill="#000" stroke="#000" stroke-width="0.2">CPU</text>
<g shape-rendering="crispEdges">
<rect x="157.9" y="348.7" width="24.9" height="83.3" fill="#000" shape-rendering="auto"/>
<rect x="160" y="351" width="5.2" height="3.6" fill="#fff" shape-rendering="auto"/>
<rect x="175.9" y="351" width="4.2" height="3.6" fill="#fff" shape-rendering="auto"/>
<rect x="160" y="357.6" width="5.2" height="3" fill="#fff" shape-rendering="auto"/>
<rect x="175.9" y="357.6" width="4.2" height="3" fill="#fff" shape-rendering="auto"/>
<rect x="160" y="363.4" width="5.2" height="3" fill="#fff" shape-rendering="auto"/>
<rect x="175.9" y="363.4" width="4.2" height="3" fill="#fff" shape-rendering="auto"/>
<rect x="160" y="369.3" width="5.2" height="3" fill="#fff" shape-rendering="auto"/>
<rect x="175.9" y="369.3" width="4.2" height="3" fill="#fff" shape-rendering="auto"/>
<rect x="160" y="375.2" width="5.2" height="3" fill="#fff" shape-rendering="auto"/>
<rect x="175.9" y="375.2" width="4.2" height="3" fill="#fff" shape-rendering="auto"/>
<rect x="160" y="381.1" width="5.2" height="3" fill="#fff" shape-rendering="auto"/>
<rect x="175.9" y="381.1" width="4.2" height="3" fill="#fff" shape-rendering="auto"/>
<rect x="160" y="386.9" width="5.2" height="3" fill="#fff" shape-rendering="auto"/>
<rect x="175.9" y="386.9" width="4.2" height="3" fill="#fff" shape-rendering="auto"/>
<rect x="160" y="392.8" width="5.2" height="3" fill="#fff" shape-rendering="auto"/>
<rect x="175.9" y="392.8" width="4.2" height="3" fill="#fff" shape-rendering="auto"/>
<rect x="160" y="398.7" width="5.2" height="3" fill="#fff" shape-rendering="auto"/>
<rect x="175.9" y="398.7" width="4.2" height="3" fill="#fff" shape-rendering="auto"/>
<rect x="160" y="404.5" width="5.2" height="3" fill="#fff" shape-rendering="auto"/>
<rect x="175.9" y="404.5" width="4.2" height="3" fill="#fff" shape-rendering="auto"/>
<rect x="160" y="410.4" width="5.2" height="3" fill="#fff" shape-rendering="auto"/>
<rect x="175.9" y="410.4" width="4.2" height="3" fill="#fff" shape-rendering="auto"/>
<rect x="160" y="416.3" width="5.2" height="3" fill="#fff" shape-rendering="auto"/>
<rect x="175.9" y="416.3" width="4.2" height="3" fill="#fff" shape-rendering="auto"/>
<rect x="160" y="422.1" width="5.2" height="3" fill="#fff" shape-rendering="auto"/>
<rect x="175.9" y="422.1" width="4.2" height="3" fill="#fff" shape-rendering="auto"/>
<rect x="160" y="428" width="5.2" height="3" fill="#fff" shape-rendering="auto"/>
<rect x="175.9" y="428" width="4.2" height="3" fill="#fff" shape-rendering="auto"/>
<rect x="168.1" y="355.8" width="5" height="34.6" fill="#fff" />
<rect x="168.1" y="394.8" width="5" height="34" fill="#fff" />
<polygon points="167.5,348.6 172.9,348.6 170.2,352" fill="#fff" stroke="none" stroke-width="1" />
<rect x="184" y="348.7" width="24.9" height="83.3" fill="#000" shape-rendering="auto"/>
<rect x="186.1" y="351" width="5.2" height="3.6" fill="#fff" shape-rendering="auto"/>
<rect x="202" y="351" width="4.2" height="3.6" fill="#fff" shape-rendering="auto"/>
<rect x="186.1" y="357.6" width="5.2" height="3" fill="#fff" shape-rendering="auto"/>
<rect x="202" y="357.6" width="4.2" height="3" fill="#fff" shape-rendering="auto"/>
<rect x="186.1" y="363.4" width="5.2" height="3" fill="#fff" shape-rendering="auto"/>
<rect x="202" y="363.4" width="4.2" height="3" fill="#fff" shape-rendering="auto"/>
<rect x="186.1" y="369.3" width="5.2" height="3" fill="#fff" shape-rendering="auto"/>
<rect x="202" y="369.3" width="4.2" height="3" fill="#fff" shape-rendering="auto"/>
<rect x="186.1" y="375.2" width="5.2" height="3" fill="#fff" shape-rendering="auto"/>
<rect x="202" y="375.2" width="4.2" height="3" fill="#fff" shape-rendering="auto"/>
<rect x="186.1" y="381.1" width="5.2" height="3" fill="#fff" shape-rendering="auto"/>
<rect x="202" y="381.1" width="4.2" height="3" fill="#fff" shape-rendering="auto"/>
<rect x="186.1" y="386.9" width="5.2" height="3" fill="#fff" shape-rendering="auto"/>
<rect x="202" y="386.9" width="4.2" height="3" fill="#fff" shape-rendering="auto"/>
<rect x="186.1" y="392.8" width="5.2" height="3" fill="#fff" shape-rendering="auto"/>
<rect x="202" y="392.8" width="4.2" height="3" fill="#fff" shape-rendering="auto"/>
<rect x="186.1" y="398.7" width="5.2" height="3" fill="#fff" shape-rendering="auto"/>
<rect x="202" y="398.7" width="4.2" height="3" fill="#fff" shape-rendering="auto"/>
<rect x="186.1" y="404.5" width="5.2" height="3" fill="#fff" shape-rendering="auto"/>
<rect x="202" y="404.5" width="4.2" height="3" fill="#fff" shape-rendering="auto"/>
<rect x="186.1" y="410.4" width="5.2" height="3" fill="#fff" shape-rendering="auto"/>
<rect x="202" y="410.4" width="4.2" height="3" fill="#fff" shape-rendering="auto"/>
<rect x="186.1" y="416.3" width="5.2" height="3" fill="#fff" shape-rendering="auto"/>
<rect x="202" y="416.3" width="4.2" height="3" fill="#fff" shape-rendering="auto"/>
<rect x="186.1" y="422.1" width="5.2" height="3" fill="#fff" shape-rendering="auto"/>
<rect x="202" y="422.1" width="4.2" height="3" fill="#fff" shape-rendering="auto"/>
<rect x="186.1" y="428" width="5.2" height="3" fill="#fff" shape-rendering="auto"/>
<rect x="202" y="428" width="4.2" height="3" fill="#fff" shape-rendering="auto"/>
<rect x="194.2" y="355.8" width="5" height="34.6" fill="#fff" />
<rect x="194.2" y="394.8" width="5" height="34" fill="#fff" />
<polygon points="193.6,348.6 199,348.6 196.3,352" fill="#fff" stroke="none" stroke-width="1" />
<rect x="210.1" y="348.7" width="24.9" height="83.3" fill="#000" shape-rendering="auto"/>
<rect x="212.2" y="351" width="5.2" height="3.6" fill="#fff" shape-rendering="auto"/>
<rect x="228.1" y="351" width="4.2" height="3.6" fill="#fff" shape-rendering="auto"/>
<rect x="212.2" y="357.6" width="5.2" height="3" fill="#fff" shape-rendering="auto"/>
<rect x="228.1" y="357.6" width="4.2" height="3" fill="#fff" shape-rendering="auto"/>
<rect x="212.2" y="363.4" width="5.2" height="3" fill="#fff" shape-rendering="auto"/>
<rect x="228.1" y="363.4" width="4.2" height="3" fill="#fff" shape-rendering="auto"/>
<rect x="212.2" y="369.3" width="5.2" height="3" fill="#fff" shape-rendering="auto"/>
<rect x="228.1" y="369.3" width="4.2" height="3" fill="#fff" shape-rendering="auto"/>
<rect x="212.2" y="375.2" width="5.2" height="3" fill="#fff" shape-rendering="auto"/>
<rect x="228.1" y="375.2" width="4.2" height="3" fill="#fff" shape-rendering="auto"/>
<rect x="212.2" y="381.1" width="5.2" height="3" fill="#fff" shape-rendering="auto"/>
<rect x="228.1" y="381.1" width="4.2" height="3" fill="#fff" shape-rendering="auto"/>
<rect x="212.2" y="386.9" width="5.2" height="3" fill="#fff" shape-rendering="auto"/>
<rect x="228.1" y="386.9" width="4.2" height="3" fill="#fff" shape-rendering="auto"/>
<rect x="212.2" y="392.8" width="5.2" height="3" fill="#fff" shape-rendering="auto"/>
<rect x="228.1" y="392.8" width="4.2" height="3" fill="#fff" shape-rendering="auto"/>
<rect x="212.2" y="398.7" width="5.2" height="3" fill="#fff" shape-rendering="auto"/>
<rect x="228.1" y="398.7" width="4.2" height="3" fill="#fff" shape-rendering="auto"/>
<rect x="212.2" y="404.5" width="5.2" height="3" fill="#fff" shape-rendering="auto"/>
<rect x="228.1" y="404.5" width="4.2" height="3" fill="#fff" shape-rendering="auto"/>
<rect x="212.2" y="410.4" width="5.2" height="3" fill="#fff" shape-rendering="auto"/>
<rect x="228.1" y="410.4" width="4.2" height="3" fill="#fff" shape-rendering="auto"/>
<rect x="212.2" y="416.3" width="5.2" height="3" fill="#fff" shape-rendering="auto"/>
<rect x="228.1" y="416.3" width="4.2" height="3" fill="#fff" shape-rendering="auto"/>
<rect x="212.2" y="422.1" width="5.2" height="3" fill="#fff" shape-rendering="auto"/>
<rect x="228.1" y="422.1" width="4.2" height="3" fill="#fff" shape-rendering="auto"/>
<rect x="212.2" y="428" width="5.2" height="3" fill="#fff" shape-rendering="auto"/>
<rect x="228.1" y="428" width="4.2" height="3" fill="#fff" shape-rendering="auto"/>
<rect x="220.3" y="355.8" width="5" height="34.6" fill="#fff" />
<rect x="220.3" y="394.8" width="5" height="34" fill="#fff" />
<polygon points="219.7,348.6 225.1,348.6 222.4,352" fill="#fff" stroke="none" stroke-width="1" />
<rect x="236.2" y="348.7" width="24.9" height="83.3" fill="#000" shape-rendering="auto"/>
<rect x="238.3" y="351" width="5.2" height="3.6" fill="#fff" shape-rendering="auto"/>
<rect x="254.2" y="351" width="4.2" height="3.6" fill="#fff" shape-rendering="auto"/>
<rect x="238.3" y="357.6" width="5.2" height="3" fill="#fff" shape-rendering="auto"/>
<rect x="254.2" y="357.6" width="4.2" height="3" fill="#fff" shape-rendering="auto"/>
<rect x="238.3" y="363.4" width="5.2" height="3" fill="#fff" shape-rendering="auto"/>
<rect x="254.2" y="363.4" width="4.2" height="3" fill="#fff" shape-rendering="auto"/>
<rect x="238.3" y="369.3" width="5.2" height="3" fill="#fff" shape-rendering="auto"/>
<rect x="254.2" y="369.3" width="4.2" height="3" fill="#fff" shape-rendering="auto"/>
<rect x="238.3" y="375.2" width="5.2" height="3" fill="#fff" shape-rendering="auto"/>
<rect x="254.2" y="375.2" width="4.2" height="3" fill="#fff" shape-rendering="auto"/>
<rect x="238.3" y="381.1" width="5.2" height="3" fill="#fff" shape-rendering="auto"/>
<rect x="254.2" y="381.1" width="4.2" height="3" fill="#fff" shape-rendering="auto"/>
<rect x="238.3" y="386.9" width="5.2" height="3" fill="#fff" shape-rendering="auto"/>
<rect x="254.2" y="386.9" width="4.2" height="3" fill="#fff" shape-rendering="auto"/>
<rect x="238.3" y="392.8" width="5.2" height="3" fill="#fff" shape-rendering="auto"/>
<rect x="254.2" y="392.8" width="4.2" height="3" fill="#fff" shape-rendering="auto"/>
<rect x="238.3" y="398.7" width="5.2" height="3" fill="#fff" shape-rendering="auto"/>
<rect x="254.2" y="398.7" width="4.2" height="3" fill="#fff" shape-rendering="auto"/>
<rect x="238.3" y="404.5" width="5.2" height="3" fill="#fff" shape-rendering="auto"/>
<rect x="254.2" y="404.5" width="4.2" height="3" fill="#fff" shape-rendering="auto"/>
<rect x="238.3" y="410.4" width="5.2" height="3" fill="#fff" shape-rendering="auto"/>
<rect x="254.2" y="410.4" width="4.2" height="3" fill="#fff" shape-rendering="auto"/>
<rect x="238.3" y="416.3" width="5.2" height="3" fill="#fff" shape-rendering="auto"/>
<rect x="254.2" y="416.3" width="4.2" height="3" fill="#fff" shape-rendering="auto"/>
<rect x="238.3" y="422.1" width="5.2" height="3" fill="#fff" shape-rendering="auto"/>
<rect x="254.2" y="422.1" width="4.2" height="3" fill="#fff" shape-rendering="auto"/>
<rect x="238.3" y="428" width="5.2" height="3" fill="#fff" shape-rendering="auto"/>
<rect x="254.2" y="428" width="4.2" height="3" fill="#fff" shape-rendering="auto"/>
<rect x="246.4" y="355.8" width="5" height="34.6" fill="#fff" />
<rect x="246.4" y="394.8" width="5" height="34" fill="#fff" />
<polygon points="245.8,348.6 251.2,348.6 248.5,352" fill="#fff" stroke="none" stroke-width="1" />
<rect x="262.3" y="348.7" width="24.9" height="83.3" fill="#000" shape-rendering="auto"/>
<rect x="264.4" y="351" width="5.2" height="3.6" fill="#fff" shape-rendering="auto"/>
<rect x="280.3" y="351" width="4.2" height="3.6" fill="#fff" shape-rendering="auto"/>
<rect x="264.4" y="357.6" width="5.2" height="3" fill="#fff" shape-rendering="auto"/>
<rect x="280.3" y="357.6" width="4.2" height="3" fill="#fff" shape-rendering="auto"/>
<rect x="264.4" y="363.4" width="5.2" height="3" fill="#fff" shape-rendering="auto"/>
<rect x="280.3" y="363.4" width="4.2" height="3" fill="#fff" shape-rendering="auto"/>
<rect x="264.4" y="369.3" width="5.2" height="3" fill="#fff" shape-rendering="auto"/>
<rect x="280.3" y="369.3" width="4.2" height="3" fill="#fff" shape-rendering="auto"/>
<rect x="264.4" y="375.2" width="5.2" height="3" fill="#fff" shape-rendering="auto"/>
<rect x="280.3" y="375.2" width="4.2" height="3" fill="#fff" shape-rendering="auto"/>
<rect x="264.4" y="381.1" width="5.2" height="3" fill="#fff" shape-rendering="auto"/>
<rect x="280.3" y="381.1" width="4.2" height="3" fill="#fff" shape-rendering="auto"/>
<rect x="264.4" y="386.9" width="5.2" height="3" fill="#fff" shape-rendering="auto"/>
<rect x="280.3" y="386.9" width="4.2" height="3" fill="#fff" shape-rendering="auto"/>
<rect x="264.4" y="392.8" width="5.2" height="3" fill="#fff" shape-rendering="auto"/>
<rect x="280.3" y="392.8" width="4.2" height="3" fill="#fff" shape-rendering="auto"/>
<rect x="264.4" y="398.7" width="5.2" height="3" fill="#fff" shape-rendering="auto"/>
<rect x="280.3" y="398.7" width="4.2" height="3" fill="#fff" shape-rendering="auto"/>
<rect x="264.4" y="404.5" width="5.2" height="3" fill="#fff" shape-rendering="auto"/>
<rect x="280.3" y="404.5" width="4.2" height="3" fill="#fff" shape-rendering="auto"/>
<rect x="264.4" y="410.4" width="5.2" height="3" fill="#fff" shape-rendering="auto"/>
<rect x="280.3" y="410.4" width="4.2" height="3" fill="#fff" shape-rendering="auto"/>
<rect x="264.4" y="416.3" width="5.2" height="3" fill="#fff" shape-rendering="auto"/>
<rect x="280.3" y="416.3" width="4.2" height="3" fill="#fff" shape-rendering="auto"/>
<rect x="264.4" y="422.1" width="5.2" height="3" fill="#fff" shape-rendering="auto"/>
<rect x="280.3" y="422.1" width="4.2" height="3" fill="#fff" shape-rendering="auto"/>
<rect x="264.4" y="428" width="5.2" height="3" fill="#fff" shape-rendering="auto"/>
<rect x="280.3" y="428" width="4.2" height="3" fill="#fff" shape-rendering="auto"/>
<rect x="272.5" y="355.8" width="5" height="34.6" fill="#fff" />
<rect x="272.5" y="394.8" width="5" height="34" fill="#fff" />
<polygon points="271.9,348.6 277.3,348.6 274.6,352" fill="#fff" stroke="none" stroke-width="1" />
<rect x="288.4" y="348.7" width="24.9" height="83.3" fill="#000" shape-rendering="auto"/>
<rect x="290.5" y="351" width="5.2" height="3.6" fill="#fff" shape-rendering="auto"/>
<rect x="306.4" y="351" width="4.2" height="3.6" fill="#fff" shape-rendering="auto"/>
<rect x="290.5" y="357.6" width="5.2" height="3" fill="#fff" shape-rendering="auto"/>
<rect x="306.4" y="357.6" width="4.2" height="3" fill="#fff" shape-rendering="auto"/>
<rect x="290.5" y="363.4" width="5.2" height="3" fill="#fff" shape-rendering="auto"/>
<rect x="306.4" y="363.4" width="4.2" height="3" fill="#fff" shape-rendering="auto"/>
<rect x="290.5" y="369.3" width="5.2" height="3" fill="#fff" shape-rendering="auto"/>
<rect x="306.4" y="369.3" width="4.2" height="3" fill="#fff" shape-rendering="auto"/>
<rect x="290.5" y="375.2" width="5.2" height="3" fill="#fff" shape-rendering="auto"/>
<rect x="306.4" y="375.2" width="4.2" height="3" fill="#fff" shape-rendering="auto"/>
<rect x="290.5" y="381.1" width="5.2" height="3" fill="#fff" shape-rendering="auto"/>
<rect x="306.4" y="381.1" width="4.2" height="3" fill="#fff" shape-rendering="auto"/>
<rect x="290.5" y="386.9" width="5.2" height="3" fill="#fff" shape-rendering="auto"/>
<rect x="306.4" y="386.9" width="4.2" height="3" fill="#fff" shape-rendering="auto"/>
<rect x="290.5" y="392.8" width="5.2" height="3" fill="#fff" shape-rendering="auto"/>
<rect x="306.4" y="392.8" width="4.2" height="3" fill="#fff" shape-rendering="auto"/>
<rect x="290.5" y="398.7" width="5.2" height="3" fill="#fff" shape-rendering="auto"/>
<rect x="306.4" y="398.7" width="4.2" height="3" fill="#fff" shape-rendering="auto"/>
<rect x="290.5" y="404.5" width="5.2" height="3" fill="#fff" shape-rendering="auto"/>
<rect x="306.4" y="404.5" width="4.2" height="3" fill="#fff" shape-rendering="auto"/>
<rect x="290.5" y="410.4" width="5.2" height="3" fill="#fff" shape-rendering="auto"/>
<rect x="306.4" y="410.4" width="4.2" height="3" fill="#fff" shape-rendering="auto"/>
<rect x="290.5" y="416.3" width="5.2" height="3" fill="#fff" shape-rendering="auto"/>
<rect x="306.4" y="416.3" width="4.2" height="3" fill="#fff" shape-rendering="auto"/>
<rect x="290.5" y="422.1" width="5.2" height="3" fill="#fff" shape-rendering="auto"/>
<rect x="306.4" y="422.1" width="4.2" height="3" fill="#fff" shape-rendering="auto"/>
<rect x="290.5" y="428" width="5.2" height="3" fill="#fff" shape-rendering="auto"/>
<rect x="306.4" y="428" width="4.2" height="3" fill="#fff" shape-rendering="auto"/>
<rect x="298.6" y="355.8" width="5" height="34.6" fill="#fff" />
<rect x="298.6" y="394.8" width="5" height="34" fill="#fff" />
<polygon points="298,348.6 303.4,348.6 300.7,352" fill="#fff" stroke="none" stroke-width="1" />
<rect x="314.5" y="348.7" width="24.9" height="83.3" fill="#000" shape-rendering="auto"/>
<rect x="316.6" y="351" width="5.2" height="3.6" fill="#fff" shape-rendering="auto"/>
<rect x="332.5" y="351" width="4.2" height="3.6" fill="#fff" shape-rendering="auto"/>
<rect x="316.6" y="357.6" width="5.2" height="3" fill="#fff" shape-rendering="auto"/>
<rect x="332.5" y="357.6" width="4.2" height="3" fill="#fff" shape-rendering="auto"/>
<rect x="316.6" y="363.4" width="5.2" height="3" fill="#fff" shape-rendering="auto"/>
<rect x="332.5" y="363.4" width="4.2" height="3" fill="#fff" shape-rendering="auto"/>
<rect x="316.6" y="369.3" width="5.2" height="3" fill="#fff" shape-rendering="auto"/>
<rect x="332.5" y="369.3" width="4.2" height="3" fill="#fff" shape-rendering="auto"/>
<rect x="316.6" y="375.2" width="5.2" height="3" fill="#fff" shape-rendering="auto"/>
<rect x="332.5" y="375.2" width="4.2" height="3" fill="#fff" shape-rendering="auto"/>
<rect x="316.6" y="381.1" width="5.2" height="3" fill="#fff" shape-rendering="auto"/>
<rect x="332.5" y="381.1" width="4.2" height="3" fill="#fff" shape-rendering="auto"/>
<rect x="316.6" y="386.9" width="5.2" height="3" fill="#fff" shape-rendering="auto"/>
<rect x="332.5" y="386.9" width="4.2" height="3" fill="#fff" shape-rendering="auto"/>
<rect x="316.6" y="392.8" width="5.2" height="3" fill="#fff" shape-rendering="auto"/>
<rect x="332.5" y="392.8" width="4.2" height="3" fill="#fff" shape-rendering="auto"/>
<rect x="316.6" y="398.7" width="5.2" height="3" fill="#fff" shape-rendering="auto"/>
<rect x="332.5" y="398.7" width="4.2" height="3" fill="#fff" shape-rendering="auto"/>
<rect x="316.6" y="404.5" width="5.2" height="3" fill="#fff" shape-rendering="auto"/>
<rect x="332.5" y="404.5" width="4.2" height="3" fill="#fff" shape-rendering="auto"/>
<rect x="316.6" y="410.4" width="5.2" height="3" fill="#fff" shape-rendering="auto"/>
<rect x="332.5" y="410.4" width="4.2" height="3" fill="#fff" shape-rendering="auto"/>
<rect x="316.6" y="416.3" width="5.2" height="3" fill="#fff" shape-rendering="auto"/>
<rect x="332.5" y="416.3" width="4.2" height="3" fill="#fff" shape-rendering="auto"/>
<rect x="316.6" y="422.1" width="5.2" height="3" fill="#fff" shape-rendering="auto"/>
<rect x="332.5" y="422.1" width="4.2" height="3" fill="#fff" shape-rendering="auto"/>
<rect x="316.6" y="428" width="5.2" height="3" fill="#fff" shape-rendering="auto"/>
<rect x="332.5" y="428" width="4.2" height="3" fill="#fff" shape-rendering="auto"/>
<rect x="324.7" y="355.8" width="5" height="34.6" fill="#fff" />
<rect x="324.7" y="394.8" width="5" height="34" fill="#fff" />
<polygon points="324.1,348.6 329.5,348.6 326.8,352" fill="#fff" stroke="none" stroke-width="1" />
<rect x="340.6" y="348.7" width="24.9" height="83.3" fill="#000" shape-rendering="auto"/>
<rect x="342.7" y="351" width="5.2" height="3.6" fill="#fff" shape-rendering="auto"/>
<rect x="358.6" y="351" width="4.2" height="3.6" fill="#fff" shape-rendering="auto"/>
<rect x="342.7" y="357.6" width="5.2" height="3" fill="#fff" shape-rendering="auto"/>
<rect x="358.6" y="357.6" width="4.2" height="3" fill="#fff" shape-rendering="auto"/>
<rect x="342.7" y="363.4" width="5.2" height="3" fill="#fff" shape-rendering="auto"/>
<rect x="358.6" y="363.4" width="4.2" height="3" fill="#fff" shape-rendering="auto"/>
<rect x="342.7" y="369.3" width="5.2" height="3" fill="#fff" shape-rendering="auto"/>
<rect x="358.6" y="369.3" width="4.2" height="3" fill="#fff" shape-rendering="auto"/>
<rect x="342.7" y="375.2" width="5.2" height="3" fill="#fff" shape-rendering="auto"/>
<rect x="358.6" y="375.2" width="4.2" height="3" fill="#fff" shape-rendering="auto"/>
<rect x="342.7" y="381.1" width="5.2" height="3" fill="#fff" shape-rendering="auto"/>
<rect x="358.6" y="381.1" width="4.2" height="3" fill="#fff" shape-rendering="auto"/>
<rect x="342.7" y="386.9" width="5.2" height="3" fill="#fff" shape-rendering="auto"/>
<rect x="358.6" y="386.9" width="4.2" height="3" fill="#fff" shape-rendering="auto"/>
<rect x="342.7" y="392.8" width="5.2" height="3" fill="#fff" shape-rendering="auto"/>
<rect x="358.6" y="392.8" width="4.2" height="3" fill="#fff" shape-rendering="auto"/>
<rect x="342.7" y="398.7" width="5.2" height="3" fill="#fff" shape-rendering="auto"/>
<rect x="358.6" y="398.7" width="4.2" height="3" fill="#fff" shape-rendering="auto"/>
<rect x="342.7" y="404.5" width="5.2" height="3" fill="#fff" shape-rendering="auto"/>
<rect x="358.6" y="404.5" width="4.2" height="3" fill="#fff" shape-rendering="auto"/>
<rect x="342.7" y="410.4" width="5.2" height="3" fill="#fff" shape-rendering="auto"/>
<rect x="358.6" y="410.4" width="4.2" height="3" fill="#fff" shape-rendering="auto"/>
<rect x="342.7" y="416.3" width="5.2" height="3" fill="#fff" shape-rendering="auto"/>
<rect x="358.6" y="416.3" width="4.2" height="3" fill="#fff" shape-rendering="auto"/>
<rect x="342.7" y="422.1" width="5.2" height="3" fill="#fff" shape-rendering="auto"/>
<rect x="358.6" y="422.1" width="4.2" height="3" fill="#fff" shape-rendering="auto"/>
<rect x="342.7" y="428" width="5.2" height="3" fill="#fff" shape-rendering="auto"/>
<rect x="358.6" y="428" width="4.2" height="3" fill="#fff" shape-rendering="auto"/>
<rect x="350.8" y="355.8" width="5" height="34.6" fill="#fff" />
<rect x="350.8" y="394.8" width="5" height="34" fill="#fff" />
<polygon points="350.2,348.6 355.6,348.6 352.9,352" fill="#fff" stroke="none" stroke-width="1" />
</g>
<path d="M155.5,428.8 L162,435 H253 L261.4,441 L269.2,435 H364 L371,427.6" fill="none" stroke="#000" stroke-width="1.2" />
<rect x="233.4" y="382.6" width="56.2" height="15.9" rx="3" fill="#000" />
<rect x="234.4" y="383.6" width="54.2" height="13.9" rx="2.2" fill="#fff" />
<text transform="translate(0,395.5) scale(0.7,1)" x="340.57 354.10 367.63 381.92 391.27 399.63" y="0" font-size="14" fill="#000" stroke="#000" stroke-width="0.2">BANK 0</text>
<rect x="237.4" y="441.6" width="49.2" height="18.2" rx="3" fill="#000" />
<rect x="239.1" y="443.3" width="45.1" height="14.1" rx="1.5" fill="#fff" />
<text transform="translate(0,455.2) scale(0.7,1)" x="342.71 356.17 368.88 382.34 395.79" y="0" font-size="14" fill="#000" stroke="#000" stroke-width="0.2">CACHE</text>
<g shape-rendering="crispEdges">
<rect x="446" y="441.2" width="278" height="15.2" fill="#000" />
<rect x="447" y="442.2" width="276" height="13.2" fill="#fff" />
<rect x="454" y="441.2" width="1" height="15" fill="#000" />
<rect x="446" y="448.2" width="8" height="1" fill="#000" />
<rect x="456" y="442.2" width="2" height="14" fill="#000" />
<path d="M459.5,443.7 H467.5 V449.7 H462.5 V452.7 H459.5 Z" fill="#fff" stroke="#000" stroke-width="1" />
<rect x="458" y="452.2" width="9" height="3" fill="#000" />
<rect x="715" y="441.2" width="1" height="15" fill="#000" />
<rect x="716" y="448.2" width="8" height="1" fill="#000" />
<rect x="712" y="442.2" width="2" height="14" fill="#000" />
<path d="M710.5,443.7 H702.5 V449.7 H707.5 V452.7 H710.5 Z" fill="#fff" stroke="#000" stroke-width="1" />
<rect x="703" y="452.2" width="9" height="3" fill="#000" />
<rect x="469.5" y="443.8" width="230.7" height="10" fill="#000" />
<rect x="471" y="444.7" width="1" height="4.6" fill="#fff" />
<rect x="473" y="444.7" width="1" height="4.6" fill="#fff" />
<rect x="476" y="444.7" width="1" height="4.6" fill="#fff" />
<rect x="478" y="444.7" width="1" height="4.6" fill="#fff" />
<rect x="481" y="444.7" width="1" height="4.6" fill="#fff" />
<rect x="483" y="444.7" width="1" height="4.6" fill="#fff" />
<rect x="486" y="444.7" width="1" height="4.6" fill="#fff" />
<rect x="488" y="444.7" width="1" height="4.6" fill="#fff" />
<rect x="491" y="444.7" width="1" height="4.6" fill="#fff" />
<rect x="493" y="444.7" width="1" height="4.6" fill="#fff" />
<rect x="496" y="444.7" width="1" height="4.6" fill="#fff" />
<rect x="498" y="444.7" width="1" height="4.6" fill="#fff" />
<rect x="501" y="444.7" width="1" height="4.6" fill="#fff" />
<rect x="503" y="444.7" width="1" height="4.6" fill="#fff" />
<rect x="506" y="444.7" width="1" height="4.6" fill="#fff" />
<rect x="508" y="444.7" width="1" height="4.6" fill="#fff" />
<rect x="511" y="444.7" width="1" height="4.6" fill="#fff" />
<rect x="513" y="444.7" width="1" height="4.6" fill="#fff" />
<rect x="516" y="444.7" width="1" height="4.6" fill="#fff" />
<rect x="518" y="444.7" width="1" height="4.6" fill="#fff" />
<rect x="521" y="444.7" width="1" height="4.6" fill="#fff" />
<rect x="523" y="444.7" width="1" height="4.6" fill="#fff" />
<rect x="526" y="444.7" width="1" height="4.6" fill="#fff" />
<rect x="528" y="444.7" width="1" height="4.6" fill="#fff" />
<rect x="531" y="444.7" width="1" height="4.6" fill="#fff" />
<rect x="533" y="444.7" width="1" height="4.6" fill="#fff" />
<rect x="536" y="444.7" width="1" height="4.6" fill="#fff" />
<rect x="538" y="444.7" width="1" height="4.6" fill="#fff" />
<rect x="541" y="444.7" width="1" height="4.6" fill="#fff" />
<rect x="543" y="444.7" width="1" height="4.6" fill="#fff" />
<rect x="546" y="444.7" width="1" height="4.6" fill="#fff" />
<rect x="548" y="444.7" width="1" height="4.6" fill="#fff" />
<rect x="551" y="444.7" width="1" height="4.6" fill="#fff" />
<rect x="553" y="444.7" width="1" height="4.6" fill="#fff" />
<rect x="556" y="444.7" width="1" height="4.6" fill="#fff" />
<rect x="558" y="444.7" width="1" height="4.6" fill="#fff" />
<rect x="561" y="444.7" width="1" height="4.6" fill="#fff" />
<rect x="563" y="444.7" width="1" height="4.6" fill="#fff" />
<rect x="566" y="444.7" width="1" height="4.6" fill="#fff" />
<rect x="568" y="444.7" width="1" height="4.6" fill="#fff" />
<rect x="571" y="444.7" width="1" height="4.6" fill="#fff" />
<rect x="573" y="444.7" width="1" height="4.6" fill="#fff" />
<rect x="576" y="444.7" width="1" height="4.6" fill="#fff" />
<rect x="578" y="444.7" width="1" height="4.6" fill="#fff" />
<rect x="581" y="444.7" width="1" height="4.6" fill="#fff" />
<rect x="583" y="444.7" width="1" height="4.6" fill="#fff" />
<rect x="586" y="444.7" width="1" height="4.6" fill="#fff" />
<rect x="588" y="444.7" width="1" height="4.6" fill="#fff" />
<rect x="591" y="444.7" width="1" height="4.6" fill="#fff" />
<rect x="593" y="444.7" width="1" height="4.6" fill="#fff" />
<rect x="596" y="444.7" width="1" height="4.6" fill="#fff" />
<rect x="598" y="444.7" width="1" height="4.6" fill="#fff" />
<rect x="601" y="444.7" width="1" height="4.6" fill="#fff" />
<rect x="603" y="444.7" width="1" height="4.6" fill="#fff" />
<rect x="606" y="444.7" width="1" height="4.6" fill="#fff" />
<rect x="608" y="444.7" width="1" height="4.6" fill="#fff" />
<rect x="611" y="444.7" width="1" height="4.6" fill="#fff" />
<rect x="613" y="444.7" width="1" height="4.6" fill="#fff" />
<rect x="616" y="444.7" width="1" height="4.6" fill="#fff" />
<rect x="618" y="444.7" width="1" height="4.6" fill="#fff" />
<rect x="621" y="444.7" width="1" height="4.6" fill="#fff" />
<rect x="623" y="444.7" width="1" height="4.6" fill="#fff" />
<rect x="626" y="444.7" width="1" height="4.6" fill="#fff" />
<rect x="628" y="444.7" width="1" height="4.6" fill="#fff" />
<rect x="631" y="444.7" width="1" height="4.6" fill="#fff" />
<rect x="633" y="444.7" width="1" height="4.6" fill="#fff" />
<rect x="636" y="444.7" width="1" height="4.6" fill="#fff" />
<rect x="638" y="444.7" width="1" height="4.6" fill="#fff" />
<rect x="641" y="444.7" width="1" height="4.6" fill="#fff" />
<rect x="643" y="444.7" width="1" height="4.6" fill="#fff" />
<rect x="646" y="444.7" width="1" height="4.6" fill="#fff" />
<rect x="648" y="444.7" width="1" height="4.6" fill="#fff" />
<rect x="651" y="444.7" width="1" height="4.6" fill="#fff" />
<rect x="653" y="444.7" width="1" height="4.6" fill="#fff" />
<rect x="656" y="444.7" width="1" height="4.6" fill="#fff" />
<rect x="658" y="444.7" width="1" height="4.6" fill="#fff" />
<rect x="661" y="444.7" width="1" height="4.6" fill="#fff" />
<rect x="663" y="444.7" width="1" height="4.6" fill="#fff" />
<rect x="666" y="444.7" width="1" height="4.6" fill="#fff" />
<rect x="668" y="444.7" width="1" height="4.6" fill="#fff" />
<rect x="671" y="444.7" width="1" height="4.6" fill="#fff" />
<rect x="673" y="444.7" width="1" height="4.6" fill="#fff" />
<rect x="676" y="444.7" width="1" height="4.6" fill="#fff" />
<rect x="678" y="444.7" width="1" height="4.6" fill="#fff" />
<rect x="681" y="444.7" width="1" height="4.6" fill="#fff" />
<rect x="683" y="444.7" width="1" height="4.6" fill="#fff" />
<rect x="686" y="444.7" width="1" height="4.6" fill="#fff" />
<rect x="688" y="444.7" width="1" height="4.6" fill="#fff" />
<rect x="691" y="444.7" width="1" height="4.6" fill="#fff" />
<rect x="693" y="444.7" width="1" height="4.6" fill="#fff" />
<rect x="696" y="444.7" width="1" height="4.6" fill="#fff" />
<rect x="698" y="444.7" width="1" height="4.6" fill="#fff" />
<rect x="580" y="443.2" width="10" height="5" fill="#fff" />
<rect x="469.5" y="453.8" width="231" height="1.4" fill="#fff" />
<rect x="446" y="458" width="278" height="15.2" fill="#000" />
<rect x="447" y="459" width="276" height="13.2" fill="#fff" />
<rect x="454" y="458" width="1" height="15" fill="#000" />
<rect x="446" y="465" width="8" height="1" fill="#000" />
<rect x="456" y="459" width="2" height="14" fill="#000" />
<path d="M459.5,460.5 H467.5 V466.5 H462.5 V469.5 H459.5 Z" fill="#fff" stroke="#000" stroke-width="1" />
<rect x="458" y="469" width="9" height="3" fill="#000" />
<rect x="715" y="458" width="1" height="15" fill="#000" />
<rect x="716" y="465" width="8" height="1" fill="#000" />
<rect x="712" y="459" width="2" height="14" fill="#000" />
<path d="M710.5,460.5 H702.5 V466.5 H707.5 V469.5 H710.5 Z" fill="#fff" stroke="#000" stroke-width="1" />
<rect x="703" y="469" width="9" height="3" fill="#000" />
<rect x="469.5" y="460.6" width="230.7" height="10" fill="#000" />
<rect x="471" y="461.5" width="1" height="4.6" fill="#fff" />
<rect x="473" y="461.5" width="1" height="4.6" fill="#fff" />
<rect x="476" y="461.5" width="1" height="4.6" fill="#fff" />
<rect x="478" y="461.5" width="1" height="4.6" fill="#fff" />
<rect x="481" y="461.5" width="1" height="4.6" fill="#fff" />
<rect x="483" y="461.5" width="1" height="4.6" fill="#fff" />
<rect x="486" y="461.5" width="1" height="4.6" fill="#fff" />
<rect x="488" y="461.5" width="1" height="4.6" fill="#fff" />
<rect x="491" y="461.5" width="1" height="4.6" fill="#fff" />
<rect x="493" y="461.5" width="1" height="4.6" fill="#fff" />
<rect x="496" y="461.5" width="1" height="4.6" fill="#fff" />
<rect x="498" y="461.5" width="1" height="4.6" fill="#fff" />
<rect x="501" y="461.5" width="1" height="4.6" fill="#fff" />
<rect x="503" y="461.5" width="1" height="4.6" fill="#fff" />
<rect x="506" y="461.5" width="1" height="4.6" fill="#fff" />
<rect x="508" y="461.5" width="1" height="4.6" fill="#fff" />
<rect x="511" y="461.5" width="1" height="4.6" fill="#fff" />
<rect x="513" y="461.5" width="1" height="4.6" fill="#fff" />
<rect x="516" y="461.5" width="1" height="4.6" fill="#fff" />
<rect x="518" y="461.5" width="1" height="4.6" fill="#fff" />
<rect x="521" y="461.5" width="1" height="4.6" fill="#fff" />
<rect x="523" y="461.5" width="1" height="4.6" fill="#fff" />
<rect x="526" y="461.5" width="1" height="4.6" fill="#fff" />
<rect x="528" y="461.5" width="1" height="4.6" fill="#fff" />
<rect x="531" y="461.5" width="1" height="4.6" fill="#fff" />
<rect x="533" y="461.5" width="1" height="4.6" fill="#fff" />
<rect x="536" y="461.5" width="1" height="4.6" fill="#fff" />
<rect x="538" y="461.5" width="1" height="4.6" fill="#fff" />
<rect x="541" y="461.5" width="1" height="4.6" fill="#fff" />
<rect x="543" y="461.5" width="1" height="4.6" fill="#fff" />
<rect x="546" y="461.5" width="1" height="4.6" fill="#fff" />
<rect x="548" y="461.5" width="1" height="4.6" fill="#fff" />
<rect x="551" y="461.5" width="1" height="4.6" fill="#fff" />
<rect x="553" y="461.5" width="1" height="4.6" fill="#fff" />
<rect x="556" y="461.5" width="1" height="4.6" fill="#fff" />
<rect x="558" y="461.5" width="1" height="4.6" fill="#fff" />
<rect x="561" y="461.5" width="1" height="4.6" fill="#fff" />
<rect x="563" y="461.5" width="1" height="4.6" fill="#fff" />
<rect x="566" y="461.5" width="1" height="4.6" fill="#fff" />
<rect x="568" y="461.5" width="1" height="4.6" fill="#fff" />
<rect x="571" y="461.5" width="1" height="4.6" fill="#fff" />
<rect x="573" y="461.5" width="1" height="4.6" fill="#fff" />
<rect x="576" y="461.5" width="1" height="4.6" fill="#fff" />
<rect x="578" y="461.5" width="1" height="4.6" fill="#fff" />
<rect x="581" y="461.5" width="1" height="4.6" fill="#fff" />
<rect x="583" y="461.5" width="1" height="4.6" fill="#fff" />
<rect x="586" y="461.5" width="1" height="4.6" fill="#fff" />
<rect x="588" y="461.5" width="1" height="4.6" fill="#fff" />
<rect x="591" y="461.5" width="1" height="4.6" fill="#fff" />
<rect x="593" y="461.5" width="1" height="4.6" fill="#fff" />
<rect x="596" y="461.5" width="1" height="4.6" fill="#fff" />
<rect x="598" y="461.5" width="1" height="4.6" fill="#fff" />
<rect x="601" y="461.5" width="1" height="4.6" fill="#fff" />
<rect x="603" y="461.5" width="1" height="4.6" fill="#fff" />
<rect x="606" y="461.5" width="1" height="4.6" fill="#fff" />
<rect x="608" y="461.5" width="1" height="4.6" fill="#fff" />
<rect x="611" y="461.5" width="1" height="4.6" fill="#fff" />
<rect x="613" y="461.5" width="1" height="4.6" fill="#fff" />
<rect x="616" y="461.5" width="1" height="4.6" fill="#fff" />
<rect x="618" y="461.5" width="1" height="4.6" fill="#fff" />
<rect x="621" y="461.5" width="1" height="4.6" fill="#fff" />
<rect x="623" y="461.5" width="1" height="4.6" fill="#fff" />
<rect x="626" y="461.5" width="1" height="4.6" fill="#fff" />
<rect x="628" y="461.5" width="1" height="4.6" fill="#fff" />
<rect x="631" y="461.5" width="1" height="4.6" fill="#fff" />
<rect x="633" y="461.5" width="1" height="4.6" fill="#fff" />
<rect x="636" y="461.5" width="1" height="4.6" fill="#fff" />
<rect x="638" y="461.5" width="1" height="4.6" fill="#fff" />
<rect x="641" y="461.5" width="1" height="4.6" fill="#fff" />
<rect x="643" y="461.5" width="1" height="4.6" fill="#fff" />
<rect x="646" y="461.5" width="1" height="4.6" fill="#fff" />
<rect x="648" y="461.5" width="1" height="4.6" fill="#fff" />
<rect x="651" y="461.5" width="1" height="4.6" fill="#fff" />
<rect x="653" y="461.5" width="1" height="4.6" fill="#fff" />
<rect x="656" y="461.5" width="1" height="4.6" fill="#fff" />
<rect x="658" y="461.5" width="1" height="4.6" fill="#fff" />
<rect x="661" y="461.5" width="1" height="4.6" fill="#fff" />
<rect x="663" y="461.5" width="1" height="4.6" fill="#fff" />
<rect x="666" y="461.5" width="1" height="4.6" fill="#fff" />
<rect x="668" y="461.5" width="1" height="4.6" fill="#fff" />
<rect x="671" y="461.5" width="1" height="4.6" fill="#fff" />
<rect x="673" y="461.5" width="1" height="4.6" fill="#fff" />
<rect x="676" y="461.5" width="1" height="4.6" fill="#fff" />
<rect x="678" y="461.5" width="1" height="4.6" fill="#fff" />
<rect x="681" y="461.5" width="1" height="4.6" fill="#fff" />
<rect x="683" y="461.5" width="1" height="4.6" fill="#fff" />
<rect x="686" y="461.5" width="1" height="4.6" fill="#fff" />
<rect x="688" y="461.5" width="1" height="4.6" fill="#fff" />
<rect x="691" y="461.5" width="1" height="4.6" fill="#fff" />
<rect x="693" y="461.5" width="1" height="4.6" fill="#fff" />
<rect x="696" y="461.5" width="1" height="4.6" fill="#fff" />
<rect x="698" y="461.5" width="1" height="4.6" fill="#fff" />
<rect x="580" y="466.5" width="10" height="5" fill="#fff" />
<rect x="469.5" y="470.6" width="231" height="1.4" fill="#fff" />
<rect x="446" y="474.8" width="278" height="15.2" fill="#000" />
<rect x="447" y="475.8" width="276" height="13.2" fill="#fff" />
<rect x="454" y="474.8" width="1" height="15" fill="#000" />
<rect x="446" y="481.8" width="8" height="1" fill="#000" />
<rect x="456" y="475.8" width="2" height="14" fill="#000" />
<path d="M459.5,477.3 H467.5 V483.3 H462.5 V486.3 H459.5 Z" fill="#fff" stroke="#000" stroke-width="1" />
<rect x="458" y="485.8" width="9" height="3" fill="#000" />
<rect x="715" y="474.8" width="1" height="15" fill="#000" />
<rect x="716" y="481.8" width="8" height="1" fill="#000" />
<rect x="712" y="475.8" width="2" height="14" fill="#000" />
<path d="M710.5,477.3 H702.5 V483.3 H707.5 V486.3 H710.5 Z" fill="#fff" stroke="#000" stroke-width="1" />
<rect x="703" y="485.8" width="9" height="3" fill="#000" />
<rect x="469.5" y="477.4" width="230.7" height="10" fill="#000" />
<rect x="471" y="478.3" width="1" height="4.6" fill="#fff" />
<rect x="473" y="478.3" width="1" height="4.6" fill="#fff" />
<rect x="476" y="478.3" width="1" height="4.6" fill="#fff" />
<rect x="478" y="478.3" width="1" height="4.6" fill="#fff" />
<rect x="481" y="478.3" width="1" height="4.6" fill="#fff" />
<rect x="483" y="478.3" width="1" height="4.6" fill="#fff" />
<rect x="486" y="478.3" width="1" height="4.6" fill="#fff" />
<rect x="488" y="478.3" width="1" height="4.6" fill="#fff" />
<rect x="491" y="478.3" width="1" height="4.6" fill="#fff" />
<rect x="493" y="478.3" width="1" height="4.6" fill="#fff" />
<rect x="496" y="478.3" width="1" height="4.6" fill="#fff" />
<rect x="498" y="478.3" width="1" height="4.6" fill="#fff" />
<rect x="501" y="478.3" width="1" height="4.6" fill="#fff" />
<rect x="503" y="478.3" width="1" height="4.6" fill="#fff" />
<rect x="506" y="478.3" width="1" height="4.6" fill="#fff" />
<rect x="508" y="478.3" width="1" height="4.6" fill="#fff" />
<rect x="511" y="478.3" width="1" height="4.6" fill="#fff" />
<rect x="513" y="478.3" width="1" height="4.6" fill="#fff" />
<rect x="516" y="478.3" width="1" height="4.6" fill="#fff" />
<rect x="518" y="478.3" width="1" height="4.6" fill="#fff" />
<rect x="521" y="478.3" width="1" height="4.6" fill="#fff" />
<rect x="523" y="478.3" width="1" height="4.6" fill="#fff" />
<rect x="526" y="478.3" width="1" height="4.6" fill="#fff" />
<rect x="528" y="478.3" width="1" height="4.6" fill="#fff" />
<rect x="531" y="478.3" width="1" height="4.6" fill="#fff" />
<rect x="533" y="478.3" width="1" height="4.6" fill="#fff" />
<rect x="536" y="478.3" width="1" height="4.6" fill="#fff" />
<rect x="538" y="478.3" width="1" height="4.6" fill="#fff" />
<rect x="541" y="478.3" width="1" height="4.6" fill="#fff" />
<rect x="543" y="478.3" width="1" height="4.6" fill="#fff" />
<rect x="546" y="478.3" width="1" height="4.6" fill="#fff" />
<rect x="548" y="478.3" width="1" height="4.6" fill="#fff" />
<rect x="551" y="478.3" width="1" height="4.6" fill="#fff" />
<rect x="553" y="478.3" width="1" height="4.6" fill="#fff" />
<rect x="556" y="478.3" width="1" height="4.6" fill="#fff" />
<rect x="558" y="478.3" width="1" height="4.6" fill="#fff" />
<rect x="561" y="478.3" width="1" height="4.6" fill="#fff" />
<rect x="563" y="478.3" width="1" height="4.6" fill="#fff" />
<rect x="566" y="478.3" width="1" height="4.6" fill="#fff" />
<rect x="568" y="478.3" width="1" height="4.6" fill="#fff" />
<rect x="571" y="478.3" width="1" height="4.6" fill="#fff" />
<rect x="573" y="478.3" width="1" height="4.6" fill="#fff" />
<rect x="576" y="478.3" width="1" height="4.6" fill="#fff" />
<rect x="578" y="478.3" width="1" height="4.6" fill="#fff" />
<rect x="581" y="478.3" width="1" height="4.6" fill="#fff" />
<rect x="583" y="478.3" width="1" height="4.6" fill="#fff" />
<rect x="586" y="478.3" width="1" height="4.6" fill="#fff" />
<rect x="588" y="478.3" width="1" height="4.6" fill="#fff" />
<rect x="591" y="478.3" width="1" height="4.6" fill="#fff" />
<rect x="593" y="478.3" width="1" height="4.6" fill="#fff" />
<rect x="596" y="478.3" width="1" height="4.6" fill="#fff" />
<rect x="598" y="478.3" width="1" height="4.6" fill="#fff" />
<rect x="601" y="478.3" width="1" height="4.6" fill="#fff" />
<rect x="603" y="478.3" width="1" height="4.6" fill="#fff" />
<rect x="606" y="478.3" width="1" height="4.6" fill="#fff" />
<rect x="608" y="478.3" width="1" height="4.6" fill="#fff" />
<rect x="611" y="478.3" width="1" height="4.6" fill="#fff" />
<rect x="613" y="478.3" width="1" height="4.6" fill="#fff" />
<rect x="616" y="478.3" width="1" height="4.6" fill="#fff" />
<rect x="618" y="478.3" width="1" height="4.6" fill="#fff" />
<rect x="621" y="478.3" width="1" height="4.6" fill="#fff" />
<rect x="623" y="478.3" width="1" height="4.6" fill="#fff" />
<rect x="626" y="478.3" width="1" height="4.6" fill="#fff" />
<rect x="628" y="478.3" width="1" height="4.6" fill="#fff" />
<rect x="631" y="478.3" width="1" height="4.6" fill="#fff" />
<rect x="633" y="478.3" width="1" height="4.6" fill="#fff" />
<rect x="636" y="478.3" width="1" height="4.6" fill="#fff" />
<rect x="638" y="478.3" width="1" height="4.6" fill="#fff" />
<rect x="641" y="478.3" width="1" height="4.6" fill="#fff" />
<rect x="643" y="478.3" width="1" height="4.6" fill="#fff" />
<rect x="646" y="478.3" width="1" height="4.6" fill="#fff" />
<rect x="648" y="478.3" width="1" height="4.6" fill="#fff" />
<rect x="651" y="478.3" width="1" height="4.6" fill="#fff" />
<rect x="653" y="478.3" width="1" height="4.6" fill="#fff" />
<rect x="656" y="478.3" width="1" height="4.6" fill="#fff" />
<rect x="658" y="478.3" width="1" height="4.6" fill="#fff" />
<rect x="661" y="478.3" width="1" height="4.6" fill="#fff" />
<rect x="663" y="478.3" width="1" height="4.6" fill="#fff" />
<rect x="666" y="478.3" width="1" height="4.6" fill="#fff" />
<rect x="668" y="478.3" width="1" height="4.6" fill="#fff" />
<rect x="671" y="478.3" width="1" height="4.6" fill="#fff" />
<rect x="673" y="478.3" width="1" height="4.6" fill="#fff" />
<rect x="676" y="478.3" width="1" height="4.6" fill="#fff" />
<rect x="678" y="478.3" width="1" height="4.6" fill="#fff" />
<rect x="681" y="478.3" width="1" height="4.6" fill="#fff" />
<rect x="683" y="478.3" width="1" height="4.6" fill="#fff" />
<rect x="686" y="478.3" width="1" height="4.6" fill="#fff" />
<rect x="688" y="478.3" width="1" height="4.6" fill="#fff" />
<rect x="691" y="478.3" width="1" height="4.6" fill="#fff" />
<rect x="693" y="478.3" width="1" height="4.6" fill="#fff" />
<rect x="696" y="478.3" width="1" height="4.6" fill="#fff" />
<rect x="698" y="478.3" width="1" height="4.6" fill="#fff" />
<rect x="580" y="476.8" width="10" height="5" fill="#fff" />
<rect x="469.5" y="487.4" width="231" height="1.4" fill="#fff" />
<rect x="446" y="491.5" width="278" height="15.2" fill="#000" />
<rect x="447" y="492.5" width="276" height="13.2" fill="#fff" />
<rect x="454" y="491.5" width="1" height="15" fill="#000" />
<rect x="446" y="498.5" width="8" height="1" fill="#000" />
<rect x="456" y="492.5" width="2" height="14" fill="#000" />
<path d="M459.5,494.0 H467.5 V500.0 H462.5 V503.0 H459.5 Z" fill="#fff" stroke="#000" stroke-width="1" />
<rect x="458" y="502.5" width="9" height="3" fill="#000" />
<rect x="715" y="491.5" width="1" height="15" fill="#000" />
<rect x="716" y="498.5" width="8" height="1" fill="#000" />
<rect x="712" y="492.5" width="2" height="14" fill="#000" />
<path d="M710.5,494.0 H702.5 V500.0 H707.5 V503.0 H710.5 Z" fill="#fff" stroke="#000" stroke-width="1" />
<rect x="703" y="502.5" width="9" height="3" fill="#000" />
<rect x="469.5" y="494.1" width="230.7" height="10" fill="#000" />
<rect x="471" y="495" width="1" height="4.6" fill="#fff" />
<rect x="473" y="495" width="1" height="4.6" fill="#fff" />
<rect x="476" y="495" width="1" height="4.6" fill="#fff" />
<rect x="478" y="495" width="1" height="4.6" fill="#fff" />
<rect x="481" y="495" width="1" height="4.6" fill="#fff" />
<rect x="483" y="495" width="1" height="4.6" fill="#fff" />
<rect x="486" y="495" width="1" height="4.6" fill="#fff" />
<rect x="488" y="495" width="1" height="4.6" fill="#fff" />
<rect x="491" y="495" width="1" height="4.6" fill="#fff" />
<rect x="493" y="495" width="1" height="4.6" fill="#fff" />
<rect x="496" y="495" width="1" height="4.6" fill="#fff" />
<rect x="498" y="495" width="1" height="4.6" fill="#fff" />
<rect x="501" y="495" width="1" height="4.6" fill="#fff" />
<rect x="503" y="495" width="1" height="4.6" fill="#fff" />
<rect x="506" y="495" width="1" height="4.6" fill="#fff" />
<rect x="508" y="495" width="1" height="4.6" fill="#fff" />
<rect x="511" y="495" width="1" height="4.6" fill="#fff" />
<rect x="513" y="495" width="1" height="4.6" fill="#fff" />
<rect x="516" y="495" width="1" height="4.6" fill="#fff" />
<rect x="518" y="495" width="1" height="4.6" fill="#fff" />
<rect x="521" y="495" width="1" height="4.6" fill="#fff" />
<rect x="523" y="495" width="1" height="4.6" fill="#fff" />
<rect x="526" y="495" width="1" height="4.6" fill="#fff" />
<rect x="528" y="495" width="1" height="4.6" fill="#fff" />
<rect x="531" y="495" width="1" height="4.6" fill="#fff" />
<rect x="533" y="495" width="1" height="4.6" fill="#fff" />
<rect x="536" y="495" width="1" height="4.6" fill="#fff" />
<rect x="538" y="495" width="1" height="4.6" fill="#fff" />
<rect x="541" y="495" width="1" height="4.6" fill="#fff" />
<rect x="543" y="495" width="1" height="4.6" fill="#fff" />
<rect x="546" y="495" width="1" height="4.6" fill="#fff" />
<rect x="548" y="495" width="1" height="4.6" fill="#fff" />
<rect x="551" y="495" width="1" height="4.6" fill="#fff" />
<rect x="553" y="495" width="1" height="4.6" fill="#fff" />
<rect x="556" y="495" width="1" height="4.6" fill="#fff" />
<rect x="558" y="495" width="1" height="4.6" fill="#fff" />
<rect x="561" y="495" width="1" height="4.6" fill="#fff" />
<rect x="563" y="495" width="1" height="4.6" fill="#fff" />
<rect x="566" y="495" width="1" height="4.6" fill="#fff" />
<rect x="568" y="495" width="1" height="4.6" fill="#fff" />
<rect x="571" y="495" width="1" height="4.6" fill="#fff" />
<rect x="573" y="495" width="1" height="4.6" fill="#fff" />
<rect x="576" y="495" width="1" height="4.6" fill="#fff" />
<rect x="578" y="495" width="1" height="4.6" fill="#fff" />
<rect x="581" y="495" width="1" height="4.6" fill="#fff" />
<rect x="583" y="495" width="1" height="4.6" fill="#fff" />
<rect x="586" y="495" width="1" height="4.6" fill="#fff" />
<rect x="588" y="495" width="1" height="4.6" fill="#fff" />
<rect x="591" y="495" width="1" height="4.6" fill="#fff" />
<rect x="593" y="495" width="1" height="4.6" fill="#fff" />
<rect x="596" y="495" width="1" height="4.6" fill="#fff" />
<rect x="598" y="495" width="1" height="4.6" fill="#fff" />
<rect x="601" y="495" width="1" height="4.6" fill="#fff" />
<rect x="603" y="495" width="1" height="4.6" fill="#fff" />
<rect x="606" y="495" width="1" height="4.6" fill="#fff" />
<rect x="608" y="495" width="1" height="4.6" fill="#fff" />
<rect x="611" y="495" width="1" height="4.6" fill="#fff" />
<rect x="613" y="495" width="1" height="4.6" fill="#fff" />
<rect x="616" y="495" width="1" height="4.6" fill="#fff" />
<rect x="618" y="495" width="1" height="4.6" fill="#fff" />
<rect x="621" y="495" width="1" height="4.6" fill="#fff" />
<rect x="623" y="495" width="1" height="4.6" fill="#fff" />
<rect x="626" y="495" width="1" height="4.6" fill="#fff" />
<rect x="628" y="495" width="1" height="4.6" fill="#fff" />
<rect x="631" y="495" width="1" height="4.6" fill="#fff" />
<rect x="633" y="495" width="1" height="4.6" fill="#fff" />
<rect x="636" y="495" width="1" height="4.6" fill="#fff" />
<rect x="638" y="495" width="1" height="4.6" fill="#fff" />
<rect x="641" y="495" width="1" height="4.6" fill="#fff" />
<rect x="643" y="495" width="1" height="4.6" fill="#fff" />
<rect x="646" y="495" width="1" height="4.6" fill="#fff" />
<rect x="648" y="495" width="1" height="4.6" fill="#fff" />
<rect x="651" y="495" width="1" height="4.6" fill="#fff" />
<rect x="653" y="495" width="1" height="4.6" fill="#fff" />
<rect x="656" y="495" width="1" height="4.6" fill="#fff" />
<rect x="658" y="495" width="1" height="4.6" fill="#fff" />
<rect x="661" y="495" width="1" height="4.6" fill="#fff" />
<rect x="663" y="495" width="1" height="4.6" fill="#fff" />
<rect x="666" y="495" width="1" height="4.6" fill="#fff" />
<rect x="668" y="495" width="1" height="4.6" fill="#fff" />
<rect x="671" y="495" width="1" height="4.6" fill="#fff" />
<rect x="673" y="495" width="1" height="4.6" fill="#fff" />
<rect x="676" y="495" width="1" height="4.6" fill="#fff" />
<rect x="678" y="495" width="1" height="4.6" fill="#fff" />
<rect x="681" y="495" width="1" height="4.6" fill="#fff" />
<rect x="683" y="495" width="1" height="4.6" fill="#fff" />
<rect x="686" y="495" width="1" height="4.6" fill="#fff" />
<rect x="688" y="495" width="1" height="4.6" fill="#fff" />
<rect x="691" y="495" width="1" height="4.6" fill="#fff" />
<rect x="693" y="495" width="1" height="4.6" fill="#fff" />
<rect x="696" y="495" width="1" height="4.6" fill="#fff" />
<rect x="698" y="495" width="1" height="4.6" fill="#fff" />
<rect x="580" y="500" width="10" height="5" fill="#fff" />
<rect x="469.5" y="504.1" width="231" height="1.4" fill="#fff" />
<rect x="556.4" y="448.8" width="58" height="15.6" fill="#000" />
<rect x="556.4" y="482.4" width="58" height="16" fill="#000" />
<rect x="557.4" y="449.8" width="56" height="13.8" fill="#fff" />
<rect x="557.4" y="483.4" width="56" height="14.2" fill="#fff" />
</g>
<text transform="translate(0,461) scale(0.7,1)" x="803.43 816.50 829.58 843.40 852.75 860.20" y="0" font-size="14" fill="#000" stroke="#000" stroke-width="0.2">BANK 0</text>
<text transform="translate(0,495.4) scale(0.7,1)" x="803.43 816.33 829.23 842.89 852.24 859.34" y="0" font-size="14" fill="#000" stroke="#000" stroke-width="0.2">BANK 1</text>
<g shape-rendering="crispEdges">
<rect x="369" y="309.8" width="119.2" height="13.2" fill="#000" />
<rect x="370" y="311" width="117.2" height="1" fill="#fff" />
<rect x="370" y="316" width="117.2" height="1" fill="#fff" />
</g>
<rect x="375.1" y="311" width="1.7" height="11" fill="#fff" />
<rect x="381.03" y="311" width="1.7" height="11" fill="#fff" />
<rect x="386.95" y="311" width="1.7" height="11" fill="#fff" />
<rect x="392.88" y="311" width="1.7" height="11" fill="#fff" />
<rect x="398.8" y="311" width="1.7" height="11" fill="#fff" />
<rect x="404.73" y="311" width="1.7" height="11" fill="#fff" />
<rect x="410.65" y="311" width="1.7" height="11" fill="#fff" />
<rect x="416.58" y="311" width="1.7" height="11" fill="#fff" />
<rect x="422.5" y="311" width="1.7" height="11" fill="#fff" />
<rect x="428.43" y="311" width="1.7" height="11" fill="#fff" />
<rect x="434.35" y="311" width="1.7" height="11" fill="#fff" />
<rect x="440.28" y="311" width="1.7" height="11" fill="#fff" />
<rect x="446.2" y="311" width="1.7" height="11" fill="#fff" />
<rect x="452.12" y="311" width="1.7" height="11" fill="#fff" />
<rect x="458.05" y="311" width="1.7" height="11" fill="#fff" />
<rect x="463.98" y="311" width="1.7" height="11" fill="#fff" />
<rect x="469.9" y="311" width="1.7" height="11" fill="#fff" />
<rect x="475.83" y="311" width="1.7" height="11" fill="#fff" />
<rect x="481.75" y="311" width="1.7" height="11" fill="#fff" />
<g shape-rendering="crispEdges">
<rect x="482" y="312" width="5.2" height="4" fill="#000" />
<rect x="483" y="312.4" width="3.4" height="2.8" fill="#fff" />
</g>
<g shape-rendering="crispEdges">
<rect x="369" y="330.8" width="119.2" height="13" fill="#000" />
<rect x="370" y="342" width="117.2" height="1" fill="#fff" />
<rect x="370" y="337" width="117.2" height="1" fill="#fff" />
</g>
<rect x="375.1" y="331.8" width="1.7" height="11.2" fill="#fff" />
<rect x="381.03" y="331.8" width="1.7" height="11.2" fill="#fff" />
<rect x="386.95" y="331.8" width="1.7" height="11.2" fill="#fff" />
<rect x="392.88" y="331.8" width="1.7" height="11.2" fill="#fff" />
<rect x="398.8" y="331.8" width="1.7" height="11.2" fill="#fff" />
<rect x="404.73" y="331.8" width="1.7" height="11.2" fill="#fff" />
<rect x="410.65" y="331.8" width="1.7" height="11.2" fill="#fff" />
<rect x="416.58" y="331.8" width="1.7" height="11.2" fill="#fff" />
<rect x="422.5" y="331.8" width="1.7" height="11.2" fill="#fff" />
<rect x="428.43" y="331.8" width="1.7" height="11.2" fill="#fff" />
<rect x="434.35" y="331.8" width="1.7" height="11.2" fill="#fff" />
<rect x="440.28" y="331.8" width="1.7" height="11.2" fill="#fff" />
<rect x="446.2" y="331.8" width="1.7" height="11.2" fill="#fff" />
<rect x="452.12" y="331.8" width="1.7" height="11.2" fill="#fff" />
<rect x="458.05" y="331.8" width="1.7" height="11.2" fill="#fff" />
<rect x="463.98" y="331.8" width="1.7" height="11.2" fill="#fff" />
<rect x="469.9" y="331.8" width="1.7" height="11.2" fill="#fff" />
<rect x="475.83" y="331.8" width="1.7" height="11.2" fill="#fff" />
<rect x="481.75" y="331.8" width="1.7" height="11.2" fill="#fff" />
<g shape-rendering="crispEdges">
<rect x="482" y="331.8" width="5.2" height="5.2" fill="#000" />
<rect x="483" y="332.8" width="3.4" height="3.2" fill="#fff" />
</g>
<g shape-rendering="crispEdges">
<rect x="602" y="385.7" width="78" height="12.9" fill="#000" />
<rect x="603" y="396" width="76" height="1" fill="#fff" />
<rect x="603" y="392" width="76" height="1" fill="#fff" />
</g>
<rect x="609" y="386.7" width="1.7" height="10.3" fill="#fff" />
<rect x="614.87" y="386.7" width="1.7" height="10.3" fill="#fff" />
<rect x="620.74" y="386.7" width="1.7" height="10.3" fill="#fff" />
<rect x="626.61" y="386.7" width="1.7" height="10.3" fill="#fff" />
<rect x="632.48" y="386.7" width="1.7" height="10.3" fill="#fff" />
<rect x="638.35" y="386.7" width="1.7" height="10.3" fill="#fff" />
<rect x="644.22" y="386.7" width="1.7" height="10.3" fill="#fff" />
<rect x="650.09" y="386.7" width="1.7" height="10.3" fill="#fff" />
<rect x="655.96" y="386.7" width="1.7" height="10.3" fill="#fff" />
<rect x="661.83" y="386.7" width="1.7" height="10.3" fill="#fff" />
<rect x="667.7" y="386.7" width="1.7" height="10.3" fill="#fff" />
<rect x="673.57" y="386.7" width="1.7" height="10.3" fill="#fff" />
<g shape-rendering="crispEdges">
<rect x="673.8" y="386.7" width="5.2" height="5.3" fill="#000" />
<rect x="674.8" y="387.7" width="3.4" height="3.3" fill="#fff" />
</g>
<g shape-rendering="crispEdges">
<rect x="588.2" y="416" width="101.8" height="12.7" fill="#000" />
<rect x="589.2" y="426" width="99.8" height="1" fill="#fff" />
<rect x="589.2" y="422" width="99.8" height="1" fill="#fff" />
</g>
<rect x="594.8" y="417" width="1.7" height="10" fill="#fff" />
<rect x="600.67" y="417" width="1.7" height="10" fill="#fff" />
<rect x="606.54" y="417" width="1.7" height="10" fill="#fff" />
<rect x="612.41" y="417" width="1.7" height="10" fill="#fff" />
<rect x="618.28" y="417" width="1.7" height="10" fill="#fff" />
<rect x="624.15" y="417" width="1.7" height="10" fill="#fff" />
<rect x="630.02" y="417" width="1.7" height="10" fill="#fff" />
<rect x="635.89" y="417" width="1.7" height="10" fill="#fff" />
<rect x="641.76" y="417" width="1.7" height="10" fill="#fff" />
<rect x="647.63" y="417" width="1.7" height="10" fill="#fff" />
<rect x="653.5" y="417" width="1.7" height="10" fill="#fff" />
<rect x="659.37" y="417" width="1.7" height="10" fill="#fff" />
<rect x="665.24" y="417" width="1.7" height="10" fill="#fff" />
<rect x="671.11" y="417" width="1.7" height="10" fill="#fff" />
<rect x="676.98" y="417" width="1.7" height="10" fill="#fff" />
<rect x="682.85" y="417" width="1.7" height="10" fill="#fff" />
<g shape-rendering="crispEdges">
<rect x="683.8" y="417" width="5.2" height="5" fill="#000" />
<rect x="684.8" y="418" width="3.4" height="3" fill="#fff" />
</g>
<g shape-rendering="crispEdges">
<rect x="612" y="304.2" width="31" height="12.8" fill="#000" />
<rect x="613" y="305" width="29" height="1" fill="#fff" />
<rect x="613" y="310" width="29" height="1" fill="#fff" />
</g>
<rect x="617.9" y="305" width="1.7" height="11" fill="#fff" />
<rect x="623.85" y="305" width="1.7" height="11" fill="#fff" />
<rect x="629.8" y="305" width="1.7" height="11" fill="#fff" />
<rect x="635.75" y="305" width="1.7" height="11" fill="#fff" />
<g shape-rendering="crispEdges">
<rect x="636.8" y="306" width="5.2" height="4" fill="#000" />
<rect x="637.8" y="306.4" width="3.4" height="2.8" fill="#fff" />
</g>
<g shape-rendering="crispEdges">
<rect x="647.3" y="304.2" width="30.7" height="12.8" fill="#000" />
<rect x="648.3" y="305" width="28.7" height="1" fill="#fff" />
<rect x="648.3" y="310" width="28.7" height="1" fill="#fff" />
</g>
<rect x="648.7" y="305" width="1.7" height="11" fill="#fff" />
<rect x="654.68" y="305" width="1.7" height="11" fill="#fff" />
<rect x="660.66" y="305" width="1.7" height="11" fill="#fff" />
<rect x="666.64" y="305" width="1.7" height="11" fill="#fff" />
<rect x="672.62" y="305" width="1.7" height="11" fill="#fff" />
<g shape-rendering="crispEdges">
<rect x="671.8" y="306" width="5.2" height="4" fill="#000" />
<rect x="672.8" y="306.4" width="3.4" height="2.8" fill="#fff" />
</g>
<g shape-rendering="crispEdges">
<rect x="53" y="34" width="6" height="31" fill="#000" />
<rect x="54" y="35.5" width="4" height="1" fill="#fff" />
<rect x="54" y="40.5" width="4" height="1" fill="#fff" />
<rect x="54" y="41.5" width="4" height="1" fill="#fff" />
<rect x="54" y="46.5" width="4" height="1" fill="#fff" />
<rect x="54" y="52.5" width="4" height="1" fill="#fff" />
<rect x="54" y="58" width="4" height="1" fill="#fff" />
<rect x="54" y="63.2" width="4" height="1" fill="#fff" />
<rect x="54" y="59.2" width="4" height="3.4" fill="#fff" />
<rect x="55.2" y="60.1" width="1.6" height="1.6" fill="#000" />
</g>
<g shape-rendering="crispEdges">
<rect x="53" y="68.7" width="6" height="25.6" fill="#000" />
<rect x="54" y="70" width="4" height="1" fill="#fff" />
<rect x="54" y="75" width="4" height="1" fill="#fff" />
<rect x="54" y="80.5" width="4" height="1" fill="#fff" />
<rect x="54" y="86" width="4" height="1" fill="#fff" />
<rect x="54" y="92.6" width="4" height="1" fill="#fff" />
<rect x="54" y="88" width="4" height="3.6" fill="#fff" />
<rect x="55.2" y="89" width="1.6" height="1.6" fill="#000" />
</g>
<g shape-rendering="crispEdges">
<rect x="53" y="98" width="6" height="13.4" fill="#000" />
<rect x="54" y="99.5" width="4" height="1" fill="#fff" />
<rect x="54" y="104.5" width="4" height="1" fill="#fff" />
<rect x="54" y="109.5" width="4" height="1" fill="#fff" />
</g>
<g shape-rendering="crispEdges">
<rect x="53" y="116" width="6" height="18.3" fill="#000" />
<rect x="54" y="117" width="4" height="1" fill="#fff" />
<rect x="54" y="123.5" width="4" height="1" fill="#fff" />
<rect x="54" y="128.5" width="4" height="1" fill="#fff" />
<rect x="54" y="118.6" width="4" height="3.4" fill="#fff" />
<rect x="55.2" y="119.5" width="1.6" height="1.6" fill="#000" />
</g>
<g shape-rendering="crispEdges">
<rect x="53" y="139" width="6" height="12.8" fill="#000" />
<rect x="54" y="145" width="4" height="1" fill="#fff" />
</g>
<g shape-rendering="crispEdges">
<rect x="181.2" y="96.2" width="6.8" height="36.8" fill="#000" />
<rect x="182.2" y="97.2" width="1" height="34.8" fill="#fff" />
<rect x="182.2" y="102.2" width="5.8" height="1" fill="#fff" />
<rect x="182.2" y="108.3" width="5.8" height="1" fill="#fff" />
<rect x="182.2" y="114.3" width="5.8" height="1" fill="#fff" />
<rect x="182.2" y="120.4" width="5.8" height="1" fill="#fff" />
<rect x="182.2" y="126.5" width="5.8" height="1" fill="#fff" />
<rect x="183.2" y="127.4" width="3.8" height="4.6" fill="#fff" />
<rect x="184.4" y="128.8" width="1.6" height="1.8" fill="#000" />
<rect x="182.2" y="97.4" width="4.8" height="1" fill="#fff" />
<rect x="127" y="162.8" width="6.8" height="14" fill="#000" />
<rect x="128" y="163.8" width="4.8" height="12" fill="#fff" />
<rect x="128" y="164.6" width="3.6" height="4" fill="#000" />
<rect x="128" y="171" width="3.6" height="4" fill="#000" />
<rect x="363.2" y="70.9" width="6.8" height="19.9" fill="#000" />
<rect x="364.4" y="72.2" width="4.4" height="1" fill="#fff" />
<rect x="364.4" y="77.6" width="4.4" height="1.2" fill="#fff" />
<rect x="364.4" y="83.2" width="4.4" height="1" fill="#fff" />
<rect x="364.6" y="85" width="4" height="3.4" fill="#fff" />
<rect x="365.8" y="86" width="1.6" height="1.4" fill="#000" />
<rect x="364.4" y="89.2" width="4.4" height="0.8" fill="#fff" />
<rect x="292.2" y="68" width="12.8" height="6.7" fill="#000" />
<rect x="298.7" y="69" width="1" height="4.7" fill="#fff" />
<rect x="300.8" y="69" width="1.5" height="4.7" fill="#fff" />
<rect x="303" y="69" width="1.2" height="4.7" fill="#fff" />
<rect x="296" y="139.9" width="6.8" height="13" fill="#000" />
<rect x="297" y="141" width="1" height="11" fill="#fff" />
<rect x="298" y="141" width="3.6" height="1" fill="#fff" />
<rect x="298" y="146.6" width="3.2" height="1" fill="#fff" />
<rect x="308.3" y="139.9" width="12.6" height="13" fill="#000" />
<rect x="309.4" y="141" width="10.4" height="1" fill="#fff" />
<rect x="309.4" y="146.6" width="10.4" height="1" fill="#fff" />
<rect x="313.4" y="141" width="1" height="11" fill="#fff" />
<rect x="318.8" y="141" width="1" height="11" fill="#fff" />
<rect x="67" y="99" width="13" height="25.2" fill="#000" />
<rect x="68" y="100.3" width="11" height="1" fill="#fff" />
<rect x="68" y="105.2" width="11" height="1" fill="#fff" />
<rect x="68" y="111.2" width="11" height="1" fill="#fff" />
<rect x="68" y="117.2" width="11" height="1" fill="#fff" />
<rect x="68" y="121.9" width="11" height="1" fill="#fff" />
<rect x="73" y="100.3" width="1" height="22.6" fill="#fff" />
<rect x="75" y="118.9" width="3.2" height="2.2" fill="#fff" />
<rect x="562.3" y="320.3" width="11.5" height="25.4" fill="#000" />
<rect x="567.6" y="321.3" width="1" height="23.4" fill="#fff" />
<rect x="563.3" y="326" width="9.5" height="1" fill="#fff" />
<rect x="563.3" y="331.5" width="9.5" height="1" fill="#fff" />
<rect x="563.3" y="337.5" width="9.5" height="1" fill="#fff" />
<rect x="563.8" y="339.5" width="2.8" height="4.4" fill="#fff" />
<rect x="569.4" y="339.5" width="2.8" height="4.4" fill="#fff" />
<rect x="564.6" y="340.6" width="1.2" height="2.2" fill="#000" />
<rect x="570.2" y="340.6" width="1.2" height="2.2" fill="#000" />
<rect x="563.3" y="321.3" width="3.5" height="1" fill="#fff" />
<rect x="569" y="321.3" width="3.5" height="1" fill="#fff" />
<rect x="188" y="449.3" width="19" height="5.5" fill="#000" />
<rect x="192.8" y="450.4" width="1.8" height="3.6" fill="#fff" />
<rect x="199.1" y="450.4" width="2.3" height="3.6" fill="#fff" />
<rect x="203" y="450.4" width="1.6" height="3.6" fill="#fff" />
<rect x="203.4" y="451.4" width="0.9" height="1.5" fill="#000" />
<rect x="205.4" y="450.4" width="0.9" height="3.6" fill="#fff" />
<rect x="458" y="428.4" width="30.8" height="5.2" fill="#000" />
<rect x="463" y="429.6" width="1.5" height="3" fill="#fff" />
<rect x="469" y="429.6" width="1.5" height="3" fill="#fff" />
<rect x="475" y="429.6" width="1.5" height="3" fill="#fff" />
<rect x="480.4" y="429.6" width="2" height="3" fill="#fff" />
<rect x="483.6" y="429.6" width="3.6" height="3" fill="#fff" />
<rect x="484.8" y="430.5" width="1.2" height="1.2" fill="#000" />
</g>
<g shape-rendering="crispEdges">
<rect x="83" y="114" width="85" height="25" fill="#000" />
<rect x="85.9" y="117" width="3.3" height="4" fill="#fff" />
<rect x="85.9" y="132.2" width="3.3" height="3.9" fill="#fff" />
<rect x="91.8" y="117" width="3.3" height="4" fill="#fff" />
<rect x="91.8" y="132.2" width="3.3" height="3.9" fill="#fff" />
<rect x="97.3" y="117" width="3.3" height="4" fill="#fff" />
<rect x="97.3" y="132.2" width="3.3" height="3.9" fill="#fff" />
<rect x="103.1" y="117" width="3.3" height="4" fill="#fff" />
<rect x="103.1" y="132.2" width="3.3" height="3.9" fill="#fff" />
<rect x="108.8" y="117" width="3.3" height="4" fill="#fff" />
<rect x="108.8" y="132.2" width="3.3" height="3.9" fill="#fff" />
<rect x="144.3" y="117" width="3.3" height="4" fill="#fff" />
<rect x="144.3" y="132.2" width="3.3" height="3.9" fill="#fff" />
<rect x="150.2" y="117" width="3.3" height="4" fill="#fff" />
<rect x="150.2" y="132.2" width="3.3" height="3.9" fill="#fff" />
<rect x="156.2" y="117" width="3.3" height="4" fill="#fff" />
<rect x="156.2" y="132.2" width="3.3" height="3.9" fill="#fff" />
<rect x="162" y="117" width="3.3" height="4" fill="#fff" />
<rect x="162" y="132.2" width="3.3" height="3.9" fill="#fff" />
<rect x="88.9" y="124" width="72" height="5.8" fill="#fff" />
<polygon points="168.2,123.3 165.2,125.6 165.2,128.2 168.2,130.4" fill="#fff" stroke="none" stroke-width="1" />
</g>
<rect x="110.6" y="117.9" width="30.6" height="17.1" rx="2.6" fill="#000" />
<rect x="111.6" y="118.9" width="28.6" height="15.1" rx="1.8" fill="#fff" />
<text transform="translate(0,130) scale(0.7,1)" x="163.14 173.79 185.18" y="0" font-size="13.2" fill="#000" stroke="#000" stroke-width="0.2">TAG</text>
<g shape-rendering="crispEdges">
<rect x="733" y="395" width="25" height="111.6" fill="#000" />
<rect x="734" y="396" width="23" height="109.6" fill="#fff" />
<rect x="736.5" y="396" width="6.6" height="2" fill="#000" />
<rect x="739" y="397" width="1.6" height="1" fill="#fff" />
<rect x="736.5" y="503.6" width="6.6" height="2" fill="#000" />
<rect x="737.4" y="504.6" width="1.4" height="1" fill="#fff" />
<rect x="740.8" y="504.6" width="1.4" height="1" fill="#fff" />
<rect x="736.1" y="401.2" width="7.7" height="6.6" fill="#000" />
<rect x="737.1" y="402.2" width="5.7" height="4.6" fill="#fff" />
<rect x="736.1" y="410.6" width="7.7" height="6.6" fill="#000" />
<rect x="737.1" y="411.6" width="5.7" height="4.6" fill="#fff" />
<rect x="736.1" y="420" width="7.7" height="6.6" fill="#000" />
<rect x="737.1" y="421" width="5.7" height="4.6" fill="#fff" />
<rect x="736.1" y="429.3" width="7.7" height="6.6" fill="#000" />
<rect x="737.1" y="430.3" width="5.7" height="4.6" fill="#fff" />
<rect x="736.1" y="438.7" width="7.7" height="6.6" fill="#000" />
<rect x="737.1" y="439.7" width="5.7" height="4.6" fill="#fff" />
<rect x="736.1" y="448.1" width="7.7" height="6.6" fill="#000" />
<rect x="737.1" y="449.1" width="5.7" height="4.6" fill="#fff" />
<rect x="736.1" y="457.5" width="7.7" height="6.6" fill="#000" />
<rect x="737.1" y="458.5" width="5.7" height="4.6" fill="#fff" />
<rect x="736.1" y="466.9" width="7.7" height="6.6" fill="#000" />
<rect x="737.1" y="467.9" width="5.7" height="4.6" fill="#fff" />
<rect x="736.1" y="476.2" width="7.7" height="6.6" fill="#000" />
<rect x="737.1" y="477.2" width="5.7" height="4.6" fill="#fff" />
<rect x="736.1" y="485.6" width="7.7" height="6.6" fill="#000" />
<rect x="737.1" y="486.6" width="5.7" height="4.6" fill="#fff" />
<rect x="736.1" y="495" width="7.7" height="6.6" fill="#000" />
<rect x="737.1" y="496" width="5.7" height="4.6" fill="#fff" />
<rect x="745.1" y="397.3" width="1.8" height="6.5" fill="#000" />
<rect x="751" y="396.9" width="4" height="6.6" rx="1.8" fill="#000" shape-rendering="auto"/>
<rect x="751.9" y="398.2" width="1.2" height="4" fill="#fff" />
<rect x="750" y="399.5" width="1.5" height="3" fill="#000" />
<rect x="745.1" y="406.4" width="1.8" height="6.5" fill="#000" />
<rect x="751" y="406.1" width="4" height="6.6" rx="1.8" fill="#000" shape-rendering="auto"/>
<rect x="751.9" y="407.4" width="1.2" height="4" fill="#fff" />
<rect x="750" y="408.7" width="1.5" height="3" fill="#000" />
<rect x="745.1" y="415.6" width="1.8" height="6.5" fill="#000" />
<rect x="751" y="415.4" width="4" height="6.6" rx="1.8" fill="#000" shape-rendering="auto"/>
<rect x="751.9" y="416.7" width="1.2" height="4" fill="#fff" />
<rect x="750" y="418" width="1.5" height="3" fill="#000" />
<rect x="745.1" y="424.8" width="1.8" height="6.5" fill="#000" />
<rect x="751" y="424.6" width="4" height="6.6" rx="1.8" fill="#000" shape-rendering="auto"/>
<rect x="751.9" y="425.9" width="1.2" height="4" fill="#fff" />
<rect x="750" y="427.2" width="1.5" height="3" fill="#000" />
<rect x="745.1" y="433.9" width="1.8" height="6.5" fill="#000" />
<rect x="751" y="433.9" width="4" height="6.6" rx="1.8" fill="#000" shape-rendering="auto"/>
<rect x="751.9" y="435.2" width="1.2" height="4" fill="#fff" />
<rect x="750" y="436.5" width="1.5" height="3" fill="#000" />
<rect x="745.1" y="443.1" width="1.8" height="6.5" fill="#000" />
<rect x="751" y="443.1" width="4" height="6.6" rx="1.8" fill="#000" shape-rendering="auto"/>
<rect x="751.9" y="444.4" width="1.2" height="4" fill="#fff" />
<rect x="750" y="445.7" width="1.5" height="3" fill="#000" />
<rect x="745.1" y="452.2" width="1.8" height="6.5" fill="#000" />
<rect x="751" y="452.3" width="4" height="6.6" rx="1.8" fill="#000" shape-rendering="auto"/>
<rect x="751.9" y="453.6" width="1.2" height="4" fill="#fff" />
<rect x="750" y="454.9" width="1.5" height="3" fill="#000" />
<rect x="745.1" y="461.4" width="1.8" height="6.5" fill="#000" />
<rect x="751" y="461.6" width="4" height="6.6" rx="1.8" fill="#000" shape-rendering="auto"/>
<rect x="751.9" y="462.9" width="1.2" height="4" fill="#fff" />
<rect x="750" y="464.2" width="1.5" height="3" fill="#000" />
<rect x="745.1" y="470.5" width="1.8" height="6.5" fill="#000" />
<rect x="751" y="470.8" width="4" height="6.6" rx="1.8" fill="#000" shape-rendering="auto"/>
<rect x="751.9" y="472.1" width="1.2" height="4" fill="#fff" />
<rect x="750" y="473.4" width="1.5" height="3" fill="#000" />
<rect x="745.1" y="479.7" width="1.8" height="6.5" fill="#000" />
<rect x="751" y="480.1" width="4" height="6.6" rx="1.8" fill="#000" shape-rendering="auto"/>
<rect x="751.9" y="481.4" width="1.2" height="4" fill="#fff" />
<rect x="750" y="482.7" width="1.5" height="3" fill="#000" />
<rect x="745.1" y="488.8" width="1.8" height="6.5" fill="#000" />
<rect x="751" y="489.3" width="4" height="6.6" rx="1.8" fill="#000" shape-rendering="auto"/>
<rect x="751.9" y="490.6" width="1.2" height="4" fill="#fff" />
<rect x="750" y="491.9" width="1.5" height="3" fill="#000" />
<rect x="745.1" y="498" width="1.8" height="6.5" fill="#000" />
<rect x="751" y="498.5" width="4" height="6.6" rx="1.8" fill="#000" shape-rendering="auto"/>
<rect x="751.9" y="499.8" width="1.2" height="4" fill="#fff" />
<rect x="750" y="501.1" width="1.5" height="3" fill="#000" />
<rect x="749" y="396" width="1" height="109.6" fill="#000" />
<rect x="763" y="397.3" width="34" height="39.2" fill="#000" />
<rect x="764" y="398.3" width="32.5" height="37.2" fill="#fff" />
<rect x="796.4" y="397.3" width="6" height="39.2" fill="#000" />
<polygon points="772,452 796.8,452 796.8,448 798.7,448 798.7,446 802,446 802,495.6 798.7,495.6 798.7,493.4 796.8,493.4 796.8,489.8 772,489.8 772,482.6 769.8,482.6 769.8,458.8 772,458.8" fill="#000" stroke="none" stroke-width="1" />
<rect x="766.2" y="461" width="4.4" height="8" fill="#000" />
<rect x="767.2" y="462" width="2.6" height="6" fill="#fff" />
<rect x="766.2" y="472" width="4.4" height="8.4" fill="#000" />
<rect x="767.2" y="473" width="2.6" height="6.4" fill="#fff" />
<rect x="771" y="469.4" width="2" height="3.2" fill="#fff" />
</g>
<rect x="767" y="408.2" width="31.4" height="17.5" rx="3" fill="#000" />
<rect x="768.7" y="409.9" width="27.3" height="13.4" rx="1.5" fill="#fff" />
<text transform="translate(0,421) scale(0.7,1)" x="1100.14 1113.53 1126.91" y="0" font-size="14" fill="#000" stroke="#000" stroke-width="0.2">CN5</text>
<rect x="3.2" y="40.3" width="35.4" height="18.2" rx="3" fill="#000" />
<rect x="4.9" y="42" width="31.3" height="14.1" rx="1.5" fill="#fff" />
<polygon points="36,45.7 38.6,45.7 41.2,47.2 45.6,48.4 45.6,49.2 41.2,50.4 38.6,51.9 36,51.9" fill="#fff" stroke="none" stroke-width="1" />
<path d="M37.8,45.1 L39.0,45.3 L41.2,46.9 L46.1,48.0 M37.8,52.5 L39.0,52.3 L41.2,50.7 L46.1,49.6" fill="none" stroke="#000" stroke-width="1.7" />
<line x1="44.6" y1="48.8" x2="53" y2="48.8" stroke="#000" stroke-width="3" />
<text transform="translate(0,53.9) scale(0.7,1)" x="11.43 21.29 37.34" y="0" font-size="14" fill="#000" stroke="#000" stroke-width="0.2">JW1</text>
<rect x="3.2" y="71.8" width="35.4" height="19" rx="3" fill="#000" />
<rect x="4.9" y="73.5" width="31.3" height="14.9" rx="1.5" fill="#fff" />
<polygon points="36,78.2 38.6,78.2 41.2,79.7 45.6,80.9 45.6,81.7 41.2,82.9 38.6,84.4 36,84.4" fill="#fff" stroke="none" stroke-width="1" />
<path d="M37.8,77.6 L39.0,77.8 L41.2,79.4 L46.1,80.5 M37.8,85.0 L39.0,84.8 L41.2,83.2 L46.1,82.1" fill="none" stroke="#000" stroke-width="1.7" />
<line x1="44.6" y1="81.3" x2="53" y2="81.3" stroke="#000" stroke-width="3" />
<text transform="translate(0,85.9) scale(0.7,1)" x="11.43 21.57 37.91" y="0" font-size="14" fill="#000" stroke="#000" stroke-width="0.2">JW2</text>
<rect x="3.2" y="96.2" width="35.4" height="17.8" rx="3" fill="#000" />
<rect x="4.9" y="97.9" width="31.3" height="13.7" rx="1.5" fill="#fff" />
<polygon points="36,101.3 38.6,101.3 41.2,102.8 45.6,104 45.6,104.8 41.2,106 38.6,107.5 36,107.5" fill="#fff" stroke="none" stroke-width="1" />
<path d="M37.8,100.7 L39.0,100.9 L41.2,102.5 L46.1,103.6 M37.8,108.1 L39.0,107.9 L41.2,106.3 L46.1,105.2" fill="none" stroke="#000" stroke-width="1.7" />
<line x1="44.6" y1="104.4" x2="53" y2="104.4" stroke="#000" stroke-width="3" />
<text transform="translate(0,109.6) scale(0.7,1)" x="11.43 21.57 37.91" y="0" font-size="14" fill="#000" stroke="#000" stroke-width="0.2">JW3</text>
<rect x="3.2" y="116.2" width="35.4" height="18.3" rx="3" fill="#000" />
<rect x="4.9" y="117.9" width="31.3" height="14.2" rx="1.5" fill="#fff" />
<polygon points="36,121.8 38.6,121.8 41.2,123.3 45.6,124.5 45.6,125.3 41.2,126.5 38.6,128 36,128" fill="#fff" stroke="none" stroke-width="1" />
<path d="M37.8,121.2 L39.0,121.4 L41.2,123.0 L46.1,124.1 M37.8,128.6 L39.0,128.4 L41.2,126.8 L46.1,125.7" fill="none" stroke="#000" stroke-width="1.7" />
<line x1="44.6" y1="124.9" x2="53" y2="124.9" stroke="#000" stroke-width="3" />
<text transform="translate(0,130) scale(0.7,1)" x="11.43 21.57 37.91" y="0" font-size="14" fill="#000" stroke="#000" stroke-width="0.2">JW4</text>
<rect x="3.2" y="139" width="35.4" height="17.8" rx="3" fill="#000" />
<rect x="4.9" y="140.7" width="31.3" height="13.7" rx="1.5" fill="#fff" />
<polygon points="36,144 38.6,144 41.2,145.5 45.6,146.7 45.6,147.5 41.2,148.7 38.6,150.2 36,150.2" fill="#fff" stroke="none" stroke-width="1" />
<path d="M37.8,143.4 L39.0,143.6 L41.2,145.2 L46.1,146.3 M37.8,150.8 L39.0,150.6 L41.2,149.0 L46.1,147.9" fill="none" stroke="#000" stroke-width="1.7" />
<line x1="44.6" y1="147.1" x2="53" y2="147.1" stroke="#000" stroke-width="3" />
<text transform="translate(0,152.2) scale(0.7,1)" x="11.43 21.57 37.91" y="0" font-size="14" fill="#000" stroke="#000" stroke-width="0.2">JW5</text>
<line x1="89.5" y1="95.2" x2="80" y2="104.6" stroke="#000" stroke-width="3.4" />
<rect x="87.6" y="79.2" width="41.3" height="18.4" rx="3" fill="#000" />
<rect x="89.3" y="80.9" width="37.2" height="14.3" rx="1.5" fill="#fff" />
<text transform="translate(0,93.6) scale(0.7,1)" x="129.86 139.73 151.95 162.63" y="0" font-size="14" fill="#000" stroke="#000" stroke-width="0.2">JP37</text>
<rect x="203.2" y="104.1" width="41.5" height="18.8" rx="3" fill="#000" />
<rect x="204.9" y="105.8" width="37.4" height="14.7" rx="1.5" fill="#fff" />
<polygon points="204.8,110.3 203.2,110.3 200.6,111.8 196.2,113 196.2,113.8 200.6,115 203.2,116.5 204.8,116.5" fill="#fff" stroke="none" stroke-width="1" />
<path d="M204.0,109.7 L202.8,109.9 L200.6,111.5 L195.7,112.6 M204.0,117.1 L202.8,116.9 L200.6,115.3 L195.7,114.2" fill="none" stroke="#000" stroke-width="1.7" />
<line x1="197.2" y1="113.4" x2="188" y2="113.4" stroke="#000" stroke-width="3" />
<text transform="translate(0,117.8) scale(0.7,1)" x="297.57 307.40 319.57 330.20" y="0" font-size="14" fill="#000" stroke="#000" stroke-width="0.2">JP36</text>
<rect x="148.3" y="160.4" width="41.5" height="18.3" rx="3" fill="#000" />
<rect x="150" y="162.1" width="37.4" height="14.2" rx="1.5" fill="#fff" />
<polygon points="149.9,166.5 148.3,166.5 145.7,168 141.3,169.2 141.3,170 145.7,171.2 148.3,172.7 149.9,172.7" fill="#fff" stroke="none" stroke-width="1" />
<path d="M149.1,165.9 L147.9,166.1 L145.7,167.7 L140.8,168.8 M149.1,173.3 L147.9,173.1 L145.7,171.5 L140.8,170.4" fill="none" stroke="#000" stroke-width="1.7" />
<line x1="142.3" y1="169.6" x2="134" y2="169.6" stroke="#000" stroke-width="3" />
<text transform="translate(0,173) scale(0.7,1)" x="217.14 227.40 240.00 251.06" y="0" font-size="14" fill="#000" stroke="#000" stroke-width="0.2">JP25</text>
<rect x="278.2" y="92" width="42.7" height="18.6" rx="3" fill="#000" />
<rect x="279.9" y="93.7" width="38.6" height="14.5" rx="1.5" fill="#fff" />
<polygon points="297.4,93.6 297.4,92 297.9,89.4 299.1,85 299.9,85 301.1,89.4 301.6,92 301.6,93.6" fill="#fff" stroke="none" stroke-width="1" />
<path d="M296.8,92.8 L297.0,91.6 L298.0,89.4 L298.7,84.5 M302.2,92.8 L302.0,91.6 L301.0,89.4 L300.3,84.5" fill="none" stroke="#000" stroke-width="1.9" />
<line x1="299.5" y1="86" x2="299.5" y2="74.5" stroke="#000" stroke-width="3" />
<text transform="translate(0,104.5) scale(0.7,1)" x="405.57 415.45 427.67 438.34" y="0" font-size="14" fill="#000" stroke="#000" stroke-width="0.2">JP40</text>
<rect x="384.3" y="70.8" width="41.5" height="18.8" rx="3" fill="#000" />
<rect x="386" y="72.5" width="37.4" height="14.7" rx="1.5" fill="#fff" />
<polygon points="385.9,76.9 384.3,76.9 381.7,78.4 377.3,79.6 377.3,80.4 381.7,81.6 384.3,83.1 385.9,83.1" fill="#fff" stroke="none" stroke-width="1" />
<path d="M385.1,76.3 L383.9,76.5 L381.7,78.1 L376.8,79.2 M385.1,83.7 L383.9,83.5 L381.7,81.9 L376.8,80.8" fill="none" stroke="#000" stroke-width="1.7" />
<line x1="378.3" y1="80" x2="369.4" y2="80" stroke="#000" stroke-width="3" />
<text transform="translate(0,84.1) scale(0.7,1)" x="556.14 565.92 578.05 588.63" y="0" font-size="14" fill="#000" stroke="#000" stroke-width="0.2">JP45</text>
<rect x="240.2" y="137" width="42" height="18.6" rx="3" fill="#000" />
<rect x="241.9" y="138.7" width="37.9" height="14.5" rx="1.5" fill="#fff" />
<polygon points="279.6,142.9 282.2,142.9 284.8,144.4 289.2,145.6 289.2,146.4 284.8,147.6 282.2,149.1 279.6,149.1" fill="#fff" stroke="none" stroke-width="1" />
<path d="M281.4,142.3 L282.6,142.5 L284.8,144.1 L289.7,145.2 M281.4,149.7 L282.6,149.5 L284.8,147.9 L289.7,146.8" fill="none" stroke="#000" stroke-width="1.7" />
<line x1="288.2" y1="146" x2="296.1" y2="146" stroke="#000" stroke-width="3" />
<text transform="translate(0,149.9) scale(0.7,1)" x="349.86 359.73 371.95 382.63" y="0" font-size="14" fill="#000" stroke="#000" stroke-width="0.2">JP34</text>
<rect x="335.2" y="137.2" width="41.7" height="18.4" rx="3" fill="#000" />
<rect x="336.9" y="138.9" width="37.6" height="14.3" rx="1.5" fill="#fff" />
<polygon points="336.8,142.9 335.2,142.9 332.6,144.4 328.2,145.6 328.2,146.4 332.6,147.6 335.2,149.1 336.8,149.1" fill="#fff" stroke="none" stroke-width="1" />
<path d="M336.0,142.3 L334.8,142.5 L332.6,144.1 L327.7,145.2 M336.0,149.7 L334.8,149.5 L332.6,147.9 L327.7,146.8" fill="none" stroke="#000" stroke-width="1.7" />
<line x1="329.2" y1="146" x2="321.1" y2="146" stroke="#000" stroke-width="3" />
<text transform="translate(0,150.4) scale(0.7,1)" x="485.71 495.64 507.91 518.63" y="0" font-size="14" fill="#000" stroke="#000" stroke-width="0.2">JP31</text>
<rect x="291" y="170" width="43.8" height="18.8" rx="3" fill="#000" />
<rect x="292.7" y="171.7" width="39.7" height="14.7" rx="1.5" fill="#fff" />
<polygon points="310.4,171.6 310.4,170 310.9,167.4 312.1,163 312.9,163 314.1,167.4 314.6,170 314.6,171.6" fill="#fff" stroke="none" stroke-width="1" />
<path d="M309.8,170.8 L310.0,169.6 L311.0,167.4 L311.7,162.5 M315.2,170.8 L315.0,169.6 L314.0,167.4 L313.3,162.5" fill="none" stroke="#000" stroke-width="1.9" />
<line x1="312.5" y1="164" x2="312.5" y2="152.6" stroke="#000" stroke-width="3" />
<text transform="translate(0,183.5) scale(0.7,1)" x="424.86 434.68 446.86 457.49" y="0" font-size="14" fill="#000" stroke="#000" stroke-width="0.2">JP32</text>
<rect x="444" y="274.9" width="34" height="18.7" rx="3" fill="#000" />
<rect x="445.7" y="276.6" width="29.9" height="14.6" rx="1.5" fill="#fff" />
<polygon points="457.9,291 457.9,293.6 458.4,296.2 459.6,300.6 460.4,300.6 461.6,296.2 462.1,293.6 462.1,291" fill="#fff" stroke="none" stroke-width="1" />
<path d="M457.3,292.8 L457.5,294.0 L458.5,296.2 L459.2,301.1 M462.7,292.8 L462.5,294.0 L461.5,296.2 L460.8,301.1" fill="none" stroke="#000" stroke-width="1.9" />
<line x1="460" y1="299.6" x2="460" y2="310" stroke="#000" stroke-width="3" />
<text transform="translate(0,289) scale(0.7,1)" x="638.57 652.89 667.20" y="0" font-size="14" fill="#000" stroke="#000" stroke-width="0.2">CN1</text>
<rect x="431.1" y="360.2" width="33.7" height="18.8" rx="3" fill="#000" />
<rect x="432.8" y="361.9" width="29.6" height="14.7" rx="1.5" fill="#fff" />
<polygon points="444.9,361.8 444.9,360.2 445.4,357.6 446.6,353.2 447.4,353.2 448.6,357.6 449.1,360.2 449.1,361.8" fill="#fff" stroke="none" stroke-width="1" />
<path d="M444.3,361.0 L444.5,359.8 L445.5,357.6 L446.2,352.7 M449.7,361.0 L449.5,359.8 L448.5,357.6 L447.8,352.7" fill="none" stroke="#000" stroke-width="1.9" />
<line x1="447" y1="354.2" x2="447" y2="344" stroke="#000" stroke-width="3" />
<text transform="translate(0,373.2) scale(0.7,1)" x="621.43 634.53 647.63" y="0" font-size="14" fill="#000" stroke="#000" stroke-width="0.2">CN2</text>
<rect x="562.3" y="300.2" width="34.9" height="18.3" rx="3" fill="#000" />
<rect x="564" y="301.9" width="30.8" height="14.2" rx="1.5" fill="#fff" />
<polygon points="594.6,306.5 597.2,306.5 599.8,308 604.2,309.2 604.2,310 599.8,311.2 597.2,312.7 594.6,312.7" fill="#fff" stroke="none" stroke-width="1" />
<path d="M596.4,305.9 L597.6,306.1 L599.8,307.7 L604.7,308.8 M596.4,313.3 L597.6,313.1 L599.8,311.5 L604.7,310.4" fill="none" stroke="#000" stroke-width="1.7" />
<line x1="603.2" y1="309.6" x2="612.2" y2="309.6" stroke="#000" stroke-width="3" />
<text transform="translate(0,314) scale(0.7,1)" x="808.00 821.67 835.34" y="0" font-size="14" fill="#000" stroke="#000" stroke-width="0.2">CN7</text>
<rect x="693" y="301.3" width="34.8" height="17.9" rx="3" fill="#000" />
<rect x="694.7" y="303" width="30.7" height="13.8" rx="1.5" fill="#fff" />
<polygon points="694.6,306.9 693,306.9 690.4,308.4 686,309.6 686,310.4 690.4,311.6 693,313.1 694.6,313.1" fill="#fff" stroke="none" stroke-width="1" />
<path d="M693.8,306.3 L692.6,306.5 L690.4,308.1 L685.5,309.2 M693.8,313.7 L692.6,313.5 L690.4,311.9 L685.5,310.8" fill="none" stroke="#000" stroke-width="1.7" />
<line x1="687" y1="310" x2="677.9" y2="310" stroke="#000" stroke-width="3" />
<text transform="translate(0,314.7) scale(0.7,1)" x="996.71 1009.39 1022.06" y="0" font-size="14" fill="#000" stroke="#000" stroke-width="0.2">CN6</text>
<rect x="512.2" y="324.5" width="35.8" height="18.2" rx="3" fill="#000" />
<rect x="513.9" y="326.2" width="31.7" height="14.1" rx="1.5" fill="#fff" />
<polygon points="545.4,329.9 548,329.9 550.6,331.4 555,332.6 555,333.4 550.6,334.6 548,336.1 545.4,336.1" fill="#fff" stroke="none" stroke-width="1" />
<path d="M547.2,329.3 L548.4,329.5 L550.6,331.1 L555.5,332.2 M547.2,336.7 L548.4,336.5 L550.6,334.9 L555.5,333.8" fill="none" stroke="#000" stroke-width="1.7" />
<line x1="554" y1="333" x2="562.3" y2="333" stroke="#000" stroke-width="3" />
<text transform="translate(0,337.3) scale(0.7,1)" x="738.71 748.21 763.91" y="0" font-size="14" fill="#000" stroke="#000" stroke-width="0.2">JW7</text>
<rect x="589.4" y="325.3" width="34.9" height="17.7" rx="3" fill="#000" />
<rect x="591.1" y="327" width="30.8" height="13.6" rx="1.5" fill="#fff" />
<polygon points="591,330.9 589.4,330.9 586.8,332.4 582.4,333.6 582.4,334.4 586.8,335.6 589.4,337.1 591,337.1" fill="#fff" stroke="none" stroke-width="1" />
<path d="M590.2,330.3 L589.0,330.5 L586.8,332.1 L581.9,333.2 M590.2,337.7 L589.0,337.5 L586.8,335.9 L581.9,334.8" fill="none" stroke="#000" stroke-width="1.7" />
<line x1="583.4" y1="334" x2="573.8" y2="334" stroke="#000" stroke-width="3" />
<text transform="translate(0,338) scale(0.7,1)" x="847.29 857.64 874.20" y="0" font-size="14" fill="#000" stroke="#000" stroke-width="0.2">JW6</text>
<rect x="552.2" y="383" width="35.2" height="18" rx="3" fill="#000" />
<rect x="553.9" y="384.7" width="31.1" height="13.9" rx="1.5" fill="#fff" />
<polygon points="584.8,388.9 587.4,388.9 590,390.4 594.4,391.6 594.4,392.4 590,393.6 587.4,395.1 584.8,395.1" fill="#fff" stroke="none" stroke-width="1" />
<path d="M586.6,388.3 L587.8,388.5 L590.0,390.1 L594.9,391.2 M586.6,395.7 L587.8,395.5 L590.0,393.9 L594.9,392.8" fill="none" stroke="#000" stroke-width="1.7" />
<line x1="593.4" y1="392" x2="602.2" y2="392" stroke="#000" stroke-width="3" />
<text transform="translate(0,396.2) scale(0.7,1)" x="794.86 808.31 821.77" y="0" font-size="14" fill="#000" stroke="#000" stroke-width="0.2">CN3</text>
<rect x="539.5" y="413.3" width="34.5" height="17.5" rx="3" fill="#000" />
<rect x="541.2" y="415" width="30.4" height="13.4" rx="1.5" fill="#fff" />
<polygon points="571.4,418.6 574,418.6 576.6,420.1 581,421.3 581,422.1 576.6,423.3 574,424.8 571.4,424.8" fill="#fff" stroke="none" stroke-width="1" />
<path d="M573.2,418.0 L574.4,418.2 L576.6,419.8 L581.5,420.9 M573.2,425.4 L574.4,425.2 L576.6,423.6 L581.5,422.5" fill="none" stroke="#000" stroke-width="1.7" />
<line x1="580" y1="421.7" x2="588" y2="421.7" stroke="#000" stroke-width="3" />
<text transform="translate(0,426.4) scale(0.7,1)" x="777.71 790.96 804.20" y="0" font-size="14" fill="#000" stroke="#000" stroke-width="0.2">CN4</text>
<rect x="403.2" y="421.2" width="40.8" height="18.6" rx="3" fill="#000" />
<rect x="404.9" y="422.9" width="36.7" height="14.5" rx="1.5" fill="#fff" />
<polygon points="441.4,427.9 444,427.9 446.6,429.4 451,430.6 451,431.4 446.6,432.6 444,434.1 441.4,434.1" fill="#fff" stroke="none" stroke-width="1" />
<path d="M443.2,427.3 L444.4,427.5 L446.6,429.1 L451.5,430.2 M443.2,434.7 L444.4,434.5 L446.6,432.9 L451.5,431.8" fill="none" stroke="#000" stroke-width="1.7" />
<line x1="450" y1="431" x2="457" y2="431" stroke="#000" stroke-width="3" />
<text transform="translate(0,434.5) scale(0.7,1)" x="580.86 590.97 603.43 614.34" y="0" font-size="14" fill="#000" stroke="#000" stroke-width="0.2">JP61</text>
<rect x="181" y="471.2" width="34" height="18.4" rx="3" fill="#000" />
<rect x="182.7" y="472.9" width="29.9" height="14.3" rx="1.5" fill="#fff" />
<polygon points="195.1,472.8 195.1,471.2 195.6,468.6 196.8,464.2 197.6,464.2 198.8,468.6 199.3,471.2 199.3,472.8" fill="#fff" stroke="none" stroke-width="1" />
<path d="M194.5,472.0 L194.7,470.8 L195.7,468.6 L196.4,463.7 M199.9,472.0 L199.7,470.8 L198.7,468.6 L198.0,463.7" fill="none" stroke="#000" stroke-width="1.9" />
<line x1="197.2" y1="465.2" x2="197.2" y2="454.8" stroke="#000" stroke-width="3" />
<text transform="translate(0,484.9) scale(0.7,1)" x="265.86 275.85 288.20" y="0" font-size="14" fill="#000" stroke="#000" stroke-width="0.2">JP2</text>
</svg>
</body></html>
